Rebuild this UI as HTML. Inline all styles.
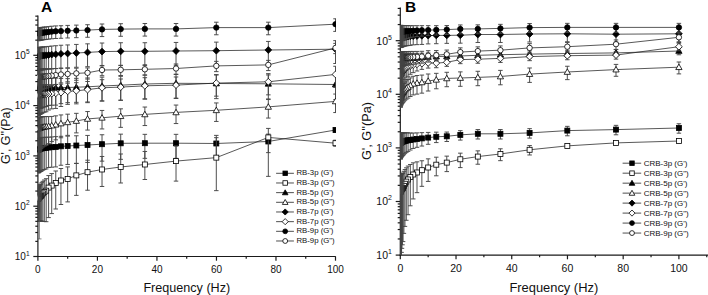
<!DOCTYPE html>
<html><head><meta charset="utf-8"><style>
html,body{margin:0;padding:0;background:#fff;}
body{width:708px;height:295px;overflow:hidden;}
svg{display:block;font-family:"Liberation Sans",sans-serif;}
</style></head><body>
<svg width="708" height="295" viewBox="0 0 708 295">
<rect width="708" height="295" fill="#fff"/>
<g stroke="#1a1a1a" stroke-width="1.2" fill="none">
<line x1="37.90" y1="15.6" x2="37.90" y2="257.10"/>
<line x1="37.30" y1="256.50" x2="335.80" y2="256.50"/>
<line x1="33.30" y1="256.50" x2="37.90" y2="256.50"/>
<line x1="35.30" y1="241.36" x2="37.90" y2="241.36"/>
<line x1="35.30" y1="232.50" x2="37.90" y2="232.50"/>
<line x1="35.30" y1="226.22" x2="37.90" y2="226.22"/>
<line x1="35.30" y1="221.34" x2="37.90" y2="221.34"/>
<line x1="35.30" y1="217.36" x2="37.90" y2="217.36"/>
<line x1="35.30" y1="213.99" x2="37.90" y2="213.99"/>
<line x1="35.30" y1="211.07" x2="37.90" y2="211.07"/>
<line x1="35.30" y1="208.50" x2="37.90" y2="208.50"/>
<line x1="33.30" y1="206.20" x2="37.90" y2="206.20"/>
<line x1="35.30" y1="191.06" x2="37.90" y2="191.06"/>
<line x1="35.30" y1="182.20" x2="37.90" y2="182.20"/>
<line x1="35.30" y1="175.92" x2="37.90" y2="175.92"/>
<line x1="35.30" y1="171.04" x2="37.90" y2="171.04"/>
<line x1="35.30" y1="167.06" x2="37.90" y2="167.06"/>
<line x1="35.30" y1="163.69" x2="37.90" y2="163.69"/>
<line x1="35.30" y1="160.77" x2="37.90" y2="160.77"/>
<line x1="35.30" y1="158.20" x2="37.90" y2="158.20"/>
<line x1="33.30" y1="155.90" x2="37.90" y2="155.90"/>
<line x1="35.30" y1="140.76" x2="37.90" y2="140.76"/>
<line x1="35.30" y1="131.90" x2="37.90" y2="131.90"/>
<line x1="35.30" y1="125.62" x2="37.90" y2="125.62"/>
<line x1="35.30" y1="120.74" x2="37.90" y2="120.74"/>
<line x1="35.30" y1="116.76" x2="37.90" y2="116.76"/>
<line x1="35.30" y1="113.39" x2="37.90" y2="113.39"/>
<line x1="35.30" y1="110.47" x2="37.90" y2="110.47"/>
<line x1="35.30" y1="107.90" x2="37.90" y2="107.90"/>
<line x1="33.30" y1="105.60" x2="37.90" y2="105.60"/>
<line x1="35.30" y1="90.46" x2="37.90" y2="90.46"/>
<line x1="35.30" y1="81.60" x2="37.90" y2="81.60"/>
<line x1="35.30" y1="75.32" x2="37.90" y2="75.32"/>
<line x1="35.30" y1="70.44" x2="37.90" y2="70.44"/>
<line x1="35.30" y1="66.46" x2="37.90" y2="66.46"/>
<line x1="35.30" y1="63.09" x2="37.90" y2="63.09"/>
<line x1="35.30" y1="60.17" x2="37.90" y2="60.17"/>
<line x1="35.30" y1="57.60" x2="37.90" y2="57.60"/>
<line x1="33.30" y1="55.30" x2="37.90" y2="55.30"/>
<line x1="35.30" y1="40.16" x2="37.90" y2="40.16"/>
<line x1="35.30" y1="31.30" x2="37.90" y2="31.30"/>
<line x1="35.30" y1="25.02" x2="37.90" y2="25.02"/>
<line x1="35.30" y1="20.14" x2="37.90" y2="20.14"/>
<line x1="35.30" y1="16.16" x2="37.90" y2="16.16"/>
<line x1="37.90" y1="256.50" x2="37.90" y2="260.70"/>
<line x1="67.66" y1="256.50" x2="67.66" y2="258.70"/>
<line x1="97.42" y1="256.50" x2="97.42" y2="260.70"/>
<line x1="127.18" y1="256.50" x2="127.18" y2="258.70"/>
<line x1="156.94" y1="256.50" x2="156.94" y2="260.70"/>
<line x1="186.70" y1="256.50" x2="186.70" y2="258.70"/>
<line x1="216.46" y1="256.50" x2="216.46" y2="260.70"/>
<line x1="246.22" y1="256.50" x2="246.22" y2="258.70"/>
<line x1="275.98" y1="256.50" x2="275.98" y2="260.70"/>
<line x1="305.74" y1="256.50" x2="305.74" y2="258.70"/>
<line x1="335.50" y1="256.50" x2="335.50" y2="260.70"/>
</g>
<text x="29.60" y="260.10" text-anchor="end" font-size="10" fill="#111">10<tspan font-size="6.60" dy="-4.60">1</tspan></text>
<text x="29.60" y="209.80" text-anchor="end" font-size="10" fill="#111">10<tspan font-size="6.60" dy="-4.60">2</tspan></text>
<text x="29.60" y="159.50" text-anchor="end" font-size="10" fill="#111">10<tspan font-size="6.60" dy="-4.60">3</tspan></text>
<text x="29.60" y="109.20" text-anchor="end" font-size="10" fill="#111">10<tspan font-size="6.60" dy="-4.60">4</tspan></text>
<text x="29.60" y="58.90" text-anchor="end" font-size="10" fill="#111">10<tspan font-size="6.60" dy="-4.60">5</tspan></text>
<text x="37.90" y="272.60" text-anchor="middle" font-size="10" fill="#111">0</text>
<text x="97.42" y="272.60" text-anchor="middle" font-size="10" fill="#111">20</text>
<text x="156.94" y="272.60" text-anchor="middle" font-size="10" fill="#111">40</text>
<text x="216.46" y="272.60" text-anchor="middle" font-size="10" fill="#111">60</text>
<text x="275.98" y="272.60" text-anchor="middle" font-size="10" fill="#111">80</text>
<text x="335.50" y="272.60" text-anchor="middle" font-size="10" fill="#111">100</text>
<text x="186.80" y="291.60" font-size="12.6" fill="#111" text-anchor="middle">Frequency (Hz)</text>
<text transform="translate(9.90,135.70) rotate(-90)" font-size="12.4" fill="#111" text-anchor="middle">G', G''(Pa)</text>
<text x="41.00" y="12.10" font-size="15.5" font-weight="bold" fill="#000">A</text>
<clipPath id="cA"><rect x="37.90" y="-4.4" width="298.10" height="260.90"/></clipPath>
<g clip-path="url(#cA)">
<path d="M335.50 130.00L268.32 141.48L216.31 143.49L176.03 143.20L144.85 143.20L120.71 143.30L102.02 144.19L87.54 145.00L76.34 145.50L67.66 146.00L60.94 146.30L55.74 146.90L51.71 147.20L48.60 147.50L46.18 147.80L44.31 147.97L42.86 148.15L41.74 148.32L40.88 148.50L40.20 148.67L39.68 148.83L39.28 149.00L38.97 149.17L38.73 149.33L38.54 149.50L38.40 149.67L38.28 149.83L38.20 150.00" fill="none" stroke="#222" stroke-width="0.75"/>
<path d="M335.50 127.92V132.30M333.25 127.92H337.75M333.25 132.30H337.75M268.32 134.14V152.63M266.07 134.14H270.57M266.07 152.63H270.57M216.31 135.38V156.55M214.06 135.38H218.56M214.06 156.55H218.56M176.03 134.34V158.34M173.78 134.34H178.28M173.78 158.34H178.28M144.85 134.34V158.34M142.60 134.34H147.10M142.60 158.34H147.10M120.71 134.15V159.33M118.46 134.15H122.96M118.46 159.33H122.96M102.02 134.76V161.15M99.77 134.76H104.27M99.77 161.15H104.27M87.54 135.43V162.45M85.29 135.43H89.79M85.29 162.45H89.79M76.34 135.78V163.43M74.09 135.78H78.59M74.09 163.43H78.59M67.66 136.15V164.44M65.41 136.15H69.91M65.41 164.44H69.91M60.94 136.31V165.25M58.69 136.31H63.19M58.69 165.25H63.19M55.74 136.63V166.91M53.49 136.63H57.99M53.49 166.91H57.99M51.71 136.93V167.22M49.46 136.93H53.96M49.46 167.22H53.96M48.60 137.23V167.52M46.35 137.23H50.85M46.35 167.52H50.85M46.18 137.26V168.93M43.93 137.26H48.43M43.93 168.93H48.43M44.31 137.34V169.55M42.06 137.34H46.56M42.06 169.55H46.56M42.86 137.41V170.17M40.61 137.41H45.11M40.61 170.17H45.11" fill="none" stroke="#454545" stroke-width="0.95"/>
<rect x="333.00" y="127.50" width="5.00" height="5.00" fill="#000" stroke="#000" stroke-width="0.8"/>
<rect x="265.82" y="138.98" width="5.00" height="5.00" fill="#000" stroke="#000" stroke-width="0.8"/>
<rect x="213.81" y="140.99" width="5.00" height="5.00" fill="#000" stroke="#000" stroke-width="0.8"/>
<rect x="173.53" y="140.70" width="5.00" height="5.00" fill="#000" stroke="#000" stroke-width="0.8"/>
<rect x="142.35" y="140.70" width="5.00" height="5.00" fill="#000" stroke="#000" stroke-width="0.8"/>
<rect x="118.21" y="140.80" width="5.00" height="5.00" fill="#000" stroke="#000" stroke-width="0.8"/>
<rect x="99.52" y="141.69" width="5.00" height="5.00" fill="#000" stroke="#000" stroke-width="0.8"/>
<rect x="85.04" y="142.50" width="5.00" height="5.00" fill="#000" stroke="#000" stroke-width="0.8"/>
<rect x="73.84" y="143.00" width="5.00" height="5.00" fill="#000" stroke="#000" stroke-width="0.8"/>
<rect x="65.16" y="143.50" width="5.00" height="5.00" fill="#000" stroke="#000" stroke-width="0.8"/>
<rect x="58.44" y="143.80" width="5.00" height="5.00" fill="#000" stroke="#000" stroke-width="0.8"/>
<rect x="53.24" y="144.40" width="5.00" height="5.00" fill="#000" stroke="#000" stroke-width="0.8"/>
<rect x="49.21" y="144.70" width="5.00" height="5.00" fill="#000" stroke="#000" stroke-width="0.8"/>
<rect x="46.10" y="145.00" width="5.00" height="5.00" fill="#000" stroke="#000" stroke-width="0.8"/>
<rect x="43.68" y="145.30" width="5.00" height="5.00" fill="#000" stroke="#000" stroke-width="0.8"/>
<rect x="41.81" y="145.47" width="5.00" height="5.00" fill="#000" stroke="#000" stroke-width="0.8"/>
<rect x="40.36" y="145.65" width="5.00" height="5.00" fill="#000" stroke="#000" stroke-width="0.8"/>
<rect x="39.24" y="145.82" width="5.00" height="5.00" fill="#000" stroke="#000" stroke-width="0.8"/>
<rect x="38.38" y="146.00" width="5.00" height="5.00" fill="#000" stroke="#000" stroke-width="0.8"/>
<rect x="37.70" y="146.17" width="5.00" height="5.00" fill="#000" stroke="#000" stroke-width="0.8"/>
<rect x="37.18" y="146.33" width="5.00" height="5.00" fill="#000" stroke="#000" stroke-width="0.8"/>
<rect x="36.78" y="146.50" width="5.00" height="5.00" fill="#000" stroke="#000" stroke-width="0.8"/>
<rect x="36.47" y="146.67" width="5.00" height="5.00" fill="#000" stroke="#000" stroke-width="0.8"/>
<rect x="36.23" y="146.83" width="5.00" height="5.00" fill="#000" stroke="#000" stroke-width="0.8"/>
<rect x="36.04" y="147.00" width="5.00" height="5.00" fill="#000" stroke="#000" stroke-width="0.8"/>
<rect x="35.90" y="147.17" width="5.00" height="5.00" fill="#000" stroke="#000" stroke-width="0.8"/>
<rect x="35.78" y="147.33" width="5.00" height="5.00" fill="#000" stroke="#000" stroke-width="0.8"/>
<rect x="35.70" y="147.50" width="5.00" height="5.00" fill="#000" stroke="#000" stroke-width="0.8"/>
<path d="M41.74 137.49V170.79M39.49 137.49H43.99M39.49 170.79H43.99M40.88 137.56V171.43M38.63 137.56H43.13M38.63 171.43H43.13M40.20 137.73V171.60M37.95 137.73H42.45M37.95 171.60H42.45M39.68 137.89V171.77M37.43 137.89H41.93M37.43 171.77H41.93M39.28 138.06V171.93M37.03 138.06H41.53M37.03 171.93H41.53M38.97 138.23V172.10M36.72 138.23H41.22M36.72 172.10H41.22M38.73 138.39V172.27M36.48 138.39H40.98M36.48 172.27H40.98M38.54 138.56V172.43M36.29 138.56H40.79M36.29 172.43H40.79M38.40 138.73V172.60M36.15 138.73H40.65M36.15 172.60H40.65M38.28 138.89V172.77M36.03 138.89H40.53M36.03 172.77H40.53M38.20 139.06V172.93M35.95 139.06H40.45M35.95 172.93H40.45" fill="none" stroke="#454545" stroke-width="0.95"/>
<path d="M335.50 143.20L268.32 137.41L216.31 157.64L176.03 161.10L144.85 164.49L120.71 166.99L102.02 169.48L87.54 172.21L76.34 175.39L67.66 178.90L60.94 180.50L55.74 182.99L51.71 185.60L48.60 187.59L46.18 190.69L44.31 192.02L42.86 193.35L41.74 194.67L40.88 196.00L40.20 196.33L39.68 196.67L39.28 197.00L38.97 197.33L38.73 197.67L38.54 198.00L38.40 198.33L38.28 198.67L38.20 199.00" fill="none" stroke="#222" stroke-width="0.75"/>
<path d="M335.50 140.20V146.20M333.25 140.20H337.75M333.25 146.20H337.75M268.32 128.42V176.36M266.07 128.42H270.57M266.07 176.36H270.57M216.31 137.67V190.65M214.06 137.67H218.56M214.06 190.65H218.56M176.03 146.09V181.11M173.78 146.09H178.28M173.78 181.11H178.28M144.85 151.48V179.51M142.60 151.48H147.10M142.60 179.51H147.10M120.71 153.99V182.99M118.46 153.99H122.96M118.46 182.99H122.96M102.02 156.48V186.47M99.77 156.48H104.27M99.77 186.47H104.27M87.54 160.21V190.22M85.29 160.21H89.79M85.29 190.22H89.79M76.34 163.39V195.38M74.09 163.39H78.59M74.09 195.38H78.59M67.66 166.90V201.90M65.41 166.90H69.91M65.41 201.90H69.91M60.94 168.50V204.50M58.69 168.50H63.19M58.69 204.50H63.19M55.74 170.99V208.99M53.49 170.99H57.99M53.49 208.99H57.99M51.71 173.60V213.59M49.46 173.60H53.96M49.46 213.59H53.96M48.60 175.59V217.58M46.35 175.59H50.85M46.35 217.58H50.85M46.18 178.69V221.69M43.93 178.69H48.43M43.93 221.69H48.43M44.31 180.02V221.53M42.06 180.02H46.56M42.06 221.53H46.56M42.86 181.35V221.35M40.61 181.35H45.11M40.61 221.35H45.11" fill="none" stroke="#454545" stroke-width="0.95"/>
<rect x="333.00" y="140.70" width="5.00" height="5.00" fill="#fff" stroke="#000" stroke-width="0.8"/>
<rect x="265.82" y="134.91" width="5.00" height="5.00" fill="#fff" stroke="#000" stroke-width="0.8"/>
<rect x="213.81" y="155.14" width="5.00" height="5.00" fill="#fff" stroke="#000" stroke-width="0.8"/>
<rect x="173.53" y="158.60" width="5.00" height="5.00" fill="#fff" stroke="#000" stroke-width="0.8"/>
<rect x="142.35" y="161.99" width="5.00" height="5.00" fill="#fff" stroke="#000" stroke-width="0.8"/>
<rect x="118.21" y="164.49" width="5.00" height="5.00" fill="#fff" stroke="#000" stroke-width="0.8"/>
<rect x="99.52" y="166.98" width="5.00" height="5.00" fill="#fff" stroke="#000" stroke-width="0.8"/>
<rect x="85.04" y="169.71" width="5.00" height="5.00" fill="#fff" stroke="#000" stroke-width="0.8"/>
<rect x="73.84" y="172.89" width="5.00" height="5.00" fill="#fff" stroke="#000" stroke-width="0.8"/>
<rect x="65.16" y="176.40" width="5.00" height="5.00" fill="#fff" stroke="#000" stroke-width="0.8"/>
<rect x="58.44" y="178.00" width="5.00" height="5.00" fill="#fff" stroke="#000" stroke-width="0.8"/>
<rect x="53.24" y="180.49" width="5.00" height="5.00" fill="#fff" stroke="#000" stroke-width="0.8"/>
<rect x="49.21" y="183.10" width="5.00" height="5.00" fill="#fff" stroke="#000" stroke-width="0.8"/>
<rect x="46.10" y="185.09" width="5.00" height="5.00" fill="#fff" stroke="#000" stroke-width="0.8"/>
<rect x="43.68" y="188.19" width="5.00" height="5.00" fill="#fff" stroke="#000" stroke-width="0.8"/>
<rect x="41.81" y="189.52" width="5.00" height="5.00" fill="#fff" stroke="#000" stroke-width="0.8"/>
<rect x="40.36" y="190.85" width="5.00" height="5.00" fill="#fff" stroke="#000" stroke-width="0.8"/>
<rect x="39.24" y="192.17" width="5.00" height="5.00" fill="#fff" stroke="#000" stroke-width="0.8"/>
<rect x="38.38" y="193.50" width="5.00" height="5.00" fill="#fff" stroke="#000" stroke-width="0.8"/>
<rect x="37.70" y="193.83" width="5.00" height="5.00" fill="#fff" stroke="#000" stroke-width="0.8"/>
<rect x="37.18" y="194.17" width="5.00" height="5.00" fill="#fff" stroke="#000" stroke-width="0.8"/>
<rect x="36.78" y="194.50" width="5.00" height="5.00" fill="#fff" stroke="#000" stroke-width="0.8"/>
<rect x="36.47" y="194.83" width="5.00" height="5.00" fill="#fff" stroke="#000" stroke-width="0.8"/>
<rect x="36.23" y="195.17" width="5.00" height="5.00" fill="#fff" stroke="#000" stroke-width="0.8"/>
<rect x="36.04" y="195.50" width="5.00" height="5.00" fill="#fff" stroke="#000" stroke-width="0.8"/>
<rect x="35.90" y="195.83" width="5.00" height="5.00" fill="#fff" stroke="#000" stroke-width="0.8"/>
<rect x="35.78" y="196.17" width="5.00" height="5.00" fill="#fff" stroke="#000" stroke-width="0.8"/>
<rect x="35.70" y="196.50" width="5.00" height="5.00" fill="#fff" stroke="#000" stroke-width="0.8"/>
<path d="M41.74 182.67V221.18M39.49 182.67H43.99M39.49 221.18H43.99M40.88 184.00V221.00M38.63 184.00H43.13M38.63 221.00H43.13M40.20 184.56V221.00M37.95 184.56H42.45M37.95 221.00H42.45M39.68 185.11V221.00M37.43 185.11H41.93M37.43 221.00H41.93M39.28 185.67V221.00M37.03 185.67H41.53M37.03 221.00H41.53M38.97 186.22V221.00M36.72 186.22H41.22M36.72 221.00H41.22M38.73 186.78V221.00M36.48 186.78H40.98M36.48 221.00H40.98M38.54 187.33V221.00M36.29 187.33H40.79M36.29 221.00H40.79M38.40 187.89V221.00M36.15 187.89H40.65M36.15 221.00H40.65M38.28 188.44V221.00M36.03 188.44H40.53M36.03 221.00H40.53M38.20 189.00V221.00M35.95 189.00H40.45M35.95 221.00H40.45" fill="none" stroke="#454545" stroke-width="0.95"/>
<path d="M335.50 84.50L268.32 83.80L216.31 83.50L176.03 83.30L144.85 84.00L120.71 85.20L102.02 85.99L87.54 86.80L76.34 87.20L67.66 87.50L60.94 87.60L55.74 87.70L51.71 87.80L48.60 88.00L46.18 88.10L44.31 88.15L42.86 88.20L41.74 88.25L40.88 88.30L40.20 88.32L39.68 88.34L39.28 88.37L38.97 88.39L38.73 88.41L38.54 88.43L38.40 88.46L38.28 88.48L38.20 88.50" fill="none" stroke="#222" stroke-width="0.75"/>
<path d="M335.50 75.64V99.64M333.25 75.64H337.75M333.25 99.64H337.75M268.32 74.94V98.94M266.07 74.94H270.57M266.07 98.94H270.57M216.31 74.64V98.64M214.06 74.64H218.56M214.06 98.64H218.56M176.03 74.44V98.44M173.78 74.44H178.28M173.78 98.44H178.28M144.85 75.14V99.14M142.60 75.14H147.10M142.60 99.14H147.10M120.71 76.34V100.34M118.46 76.34H122.96M118.46 100.34H122.96M102.02 77.14V101.14M99.77 77.14H104.27M99.77 101.14H104.27M87.54 77.94V101.94M85.29 77.94H89.79M85.29 101.94H89.79M76.34 78.34V102.34M74.09 78.34H78.59M74.09 102.34H78.59M67.66 78.64V102.64M65.41 78.64H69.91M65.41 102.64H69.91M60.94 78.45V103.63M58.69 78.45H63.19M58.69 103.63H63.19M55.74 78.13V105.14M53.49 78.13H57.99M53.49 105.14H57.99M51.71 78.23V105.24M49.46 78.23H53.96M49.46 105.24H53.96M48.60 78.43V105.44M46.35 78.43H50.85M46.35 105.44H50.85M46.18 78.25V106.53M43.93 78.25H48.43M43.93 106.53H48.43M44.31 78.19V106.97M42.06 78.19H46.56M42.06 106.97H46.56M42.86 78.14V107.41M40.61 78.14H45.11M40.61 107.41H45.11" fill="none" stroke="#454545" stroke-width="0.95"/>
<path d="M335.50 81.35L338.65 86.86L332.35 86.86Z" fill="#000" stroke="#000" stroke-width="0.8" stroke-linejoin="miter"/>
<path d="M268.32 80.65L271.47 86.16L265.17 86.16Z" fill="#000" stroke="#000" stroke-width="0.8" stroke-linejoin="miter"/>
<path d="M216.31 80.35L219.46 85.86L213.16 85.86Z" fill="#000" stroke="#000" stroke-width="0.8" stroke-linejoin="miter"/>
<path d="M176.03 80.15L179.18 85.66L172.88 85.66Z" fill="#000" stroke="#000" stroke-width="0.8" stroke-linejoin="miter"/>
<path d="M144.85 80.85L148.00 86.36L141.70 86.36Z" fill="#000" stroke="#000" stroke-width="0.8" stroke-linejoin="miter"/>
<path d="M120.71 82.05L123.86 87.56L117.56 87.56Z" fill="#000" stroke="#000" stroke-width="0.8" stroke-linejoin="miter"/>
<path d="M102.02 82.84L105.17 88.36L98.87 88.36Z" fill="#000" stroke="#000" stroke-width="0.8" stroke-linejoin="miter"/>
<path d="M87.54 83.65L90.69 89.16L84.39 89.16Z" fill="#000" stroke="#000" stroke-width="0.8" stroke-linejoin="miter"/>
<path d="M76.34 84.05L79.49 89.56L73.19 89.56Z" fill="#000" stroke="#000" stroke-width="0.8" stroke-linejoin="miter"/>
<path d="M67.66 84.35L70.81 89.86L64.51 89.86Z" fill="#000" stroke="#000" stroke-width="0.8" stroke-linejoin="miter"/>
<path d="M60.94 84.45L64.09 89.96L57.79 89.96Z" fill="#000" stroke="#000" stroke-width="0.8" stroke-linejoin="miter"/>
<path d="M55.74 84.55L58.89 90.06L52.59 90.06Z" fill="#000" stroke="#000" stroke-width="0.8" stroke-linejoin="miter"/>
<path d="M51.71 84.65L54.86 90.16L48.56 90.16Z" fill="#000" stroke="#000" stroke-width="0.8" stroke-linejoin="miter"/>
<path d="M48.60 84.85L51.75 90.36L45.45 90.36Z" fill="#000" stroke="#000" stroke-width="0.8" stroke-linejoin="miter"/>
<path d="M46.18 84.95L49.33 90.46L43.03 90.46Z" fill="#000" stroke="#000" stroke-width="0.8" stroke-linejoin="miter"/>
<path d="M44.31 85.00L47.46 90.51L41.16 90.51Z" fill="#000" stroke="#000" stroke-width="0.8" stroke-linejoin="miter"/>
<path d="M42.86 85.05L46.01 90.56L39.71 90.56Z" fill="#000" stroke="#000" stroke-width="0.8" stroke-linejoin="miter"/>
<path d="M41.74 85.10L44.89 90.61L38.59 90.61Z" fill="#000" stroke="#000" stroke-width="0.8" stroke-linejoin="miter"/>
<path d="M40.88 85.15L44.03 90.66L37.73 90.66Z" fill="#000" stroke="#000" stroke-width="0.8" stroke-linejoin="miter"/>
<path d="M40.20 85.17L43.35 90.68L37.05 90.68Z" fill="#000" stroke="#000" stroke-width="0.8" stroke-linejoin="miter"/>
<path d="M39.68 85.19L42.83 90.71L36.53 90.71Z" fill="#000" stroke="#000" stroke-width="0.8" stroke-linejoin="miter"/>
<path d="M39.28 85.22L42.43 90.73L36.13 90.73Z" fill="#000" stroke="#000" stroke-width="0.8" stroke-linejoin="miter"/>
<path d="M38.97 85.24L42.12 90.75L35.82 90.75Z" fill="#000" stroke="#000" stroke-width="0.8" stroke-linejoin="miter"/>
<path d="M38.73 85.26L41.88 90.77L35.58 90.77Z" fill="#000" stroke="#000" stroke-width="0.8" stroke-linejoin="miter"/>
<path d="M38.54 85.28L41.69 90.80L35.39 90.80Z" fill="#000" stroke="#000" stroke-width="0.8" stroke-linejoin="miter"/>
<path d="M38.40 85.31L41.55 90.82L35.25 90.82Z" fill="#000" stroke="#000" stroke-width="0.8" stroke-linejoin="miter"/>
<path d="M38.28 85.33L41.43 90.84L35.13 90.84Z" fill="#000" stroke="#000" stroke-width="0.8" stroke-linejoin="miter"/>
<path d="M38.20 85.35L41.35 90.86L35.05 90.86Z" fill="#000" stroke="#000" stroke-width="0.8" stroke-linejoin="miter"/>
<path d="M41.74 78.09V107.86M39.49 78.09H43.99M39.49 107.86H43.99M40.88 78.03V108.32M38.63 78.03H43.13M38.63 108.32H43.13M40.20 78.05V108.34M37.95 78.05H42.45M37.95 108.34H42.45M39.68 78.08V108.36M37.43 78.08H41.93M37.43 108.36H41.93M39.28 78.10V108.38M37.03 78.10H41.53M37.03 108.38H41.53M38.97 78.12V108.41M36.72 78.12H41.22M36.72 108.41H41.22M38.73 78.14V108.43M36.48 78.14H40.98M36.48 108.43H40.98M38.54 78.17V108.45M36.29 78.17H40.79M36.29 108.45H40.79M38.40 78.19V108.47M36.15 78.19H40.65M36.15 108.47H40.65M38.28 78.21V108.49M36.03 78.21H40.53M36.03 108.49H40.53M38.20 78.23V108.52M35.95 78.23H40.45M35.95 108.52H40.45" fill="none" stroke="#454545" stroke-width="0.95"/>
<path d="M335.50 101.40L268.32 106.89L216.31 110.29L176.03 112.40L144.85 114.39L120.71 116.19L102.02 117.79L87.54 118.91L76.34 120.99L67.66 122.30L60.94 123.50L55.74 124.70L51.71 125.60L48.60 126.20L46.18 126.50L44.31 126.75L42.86 127.00L41.74 127.25L40.88 127.50L40.20 127.61L39.68 127.72L39.28 127.83L38.97 127.94L38.73 128.06L38.54 128.17L38.40 128.28L38.28 128.39L38.20 128.50" fill="none" stroke="#222" stroke-width="0.75"/>
<path d="M335.50 94.05V112.56M333.25 94.05H337.75M333.25 112.56H337.75M268.32 99.54V118.05M266.07 99.54H270.57M266.07 118.05H270.57M216.31 102.94V121.45M214.06 102.94H218.56M214.06 121.45H218.56M176.03 105.05V123.56M173.78 105.05H178.28M173.78 123.56H178.28M144.85 107.04V125.55M142.60 107.04H147.10M142.60 125.55H147.10M120.71 108.84V127.35M118.46 108.84H122.96M118.46 127.35H122.96M102.02 110.44V128.95M99.77 110.44H104.27M99.77 128.95H104.27M87.54 111.56V130.07M85.29 111.56H89.79M85.29 130.07H89.79M76.34 113.33V132.89M74.09 113.33H78.59M74.09 132.89H78.59M67.66 114.18V135.36M65.41 114.18H69.91M65.41 135.36H69.91M60.94 114.93V137.78M58.69 114.93H63.19M58.69 137.78H63.19M55.74 115.84V139.84M53.49 115.84H57.99M53.49 139.84H57.99M51.71 116.45V141.63M49.46 116.45H53.96M49.46 141.63H53.96M48.60 116.63V143.63M46.35 116.63H50.85M46.35 143.63H50.85M46.18 116.51V145.44M43.93 116.51H48.43M43.93 145.44H48.43M44.31 116.62V146.22M42.06 116.62H46.56M42.06 146.22H46.56M42.86 116.73V147.01M40.61 116.73H45.11M40.61 147.01H45.11" fill="none" stroke="#454545" stroke-width="0.95"/>
<path d="M335.50 98.25L338.65 103.76L332.35 103.76Z" fill="#fff" stroke="#000" stroke-width="0.8" stroke-linejoin="miter"/>
<path d="M268.32 103.74L271.47 109.26L265.17 109.26Z" fill="#fff" stroke="#000" stroke-width="0.8" stroke-linejoin="miter"/>
<path d="M216.31 107.14L219.46 112.65L213.16 112.65Z" fill="#fff" stroke="#000" stroke-width="0.8" stroke-linejoin="miter"/>
<path d="M176.03 109.25L179.18 114.76L172.88 114.76Z" fill="#fff" stroke="#000" stroke-width="0.8" stroke-linejoin="miter"/>
<path d="M144.85 111.24L148.00 116.75L141.70 116.75Z" fill="#fff" stroke="#000" stroke-width="0.8" stroke-linejoin="miter"/>
<path d="M120.71 113.04L123.86 118.56L117.56 118.56Z" fill="#fff" stroke="#000" stroke-width="0.8" stroke-linejoin="miter"/>
<path d="M102.02 114.64L105.17 120.15L98.87 120.15Z" fill="#fff" stroke="#000" stroke-width="0.8" stroke-linejoin="miter"/>
<path d="M87.54 115.76L90.69 121.27L84.39 121.27Z" fill="#fff" stroke="#000" stroke-width="0.8" stroke-linejoin="miter"/>
<path d="M76.34 117.84L79.49 123.35L73.19 123.35Z" fill="#fff" stroke="#000" stroke-width="0.8" stroke-linejoin="miter"/>
<path d="M67.66 119.15L70.81 124.66L64.51 124.66Z" fill="#fff" stroke="#000" stroke-width="0.8" stroke-linejoin="miter"/>
<path d="M60.94 120.35L64.09 125.86L57.79 125.86Z" fill="#fff" stroke="#000" stroke-width="0.8" stroke-linejoin="miter"/>
<path d="M55.74 121.55L58.89 127.06L52.59 127.06Z" fill="#fff" stroke="#000" stroke-width="0.8" stroke-linejoin="miter"/>
<path d="M51.71 122.45L54.86 127.96L48.56 127.96Z" fill="#fff" stroke="#000" stroke-width="0.8" stroke-linejoin="miter"/>
<path d="M48.60 123.05L51.75 128.56L45.45 128.56Z" fill="#fff" stroke="#000" stroke-width="0.8" stroke-linejoin="miter"/>
<path d="M46.18 123.35L49.33 128.86L43.03 128.86Z" fill="#fff" stroke="#000" stroke-width="0.8" stroke-linejoin="miter"/>
<path d="M44.31 123.60L47.46 129.11L41.16 129.11Z" fill="#fff" stroke="#000" stroke-width="0.8" stroke-linejoin="miter"/>
<path d="M42.86 123.85L46.01 129.36L39.71 129.36Z" fill="#fff" stroke="#000" stroke-width="0.8" stroke-linejoin="miter"/>
<path d="M41.74 124.10L44.89 129.61L38.59 129.61Z" fill="#fff" stroke="#000" stroke-width="0.8" stroke-linejoin="miter"/>
<path d="M40.88 124.35L44.03 129.86L37.73 129.86Z" fill="#fff" stroke="#000" stroke-width="0.8" stroke-linejoin="miter"/>
<path d="M40.20 124.46L43.35 129.97L37.05 129.97Z" fill="#fff" stroke="#000" stroke-width="0.8" stroke-linejoin="miter"/>
<path d="M39.68 124.57L42.83 130.08L36.53 130.08Z" fill="#fff" stroke="#000" stroke-width="0.8" stroke-linejoin="miter"/>
<path d="M39.28 124.68L42.43 130.20L36.13 130.20Z" fill="#fff" stroke="#000" stroke-width="0.8" stroke-linejoin="miter"/>
<path d="M38.97 124.79L42.12 130.31L35.82 130.31Z" fill="#fff" stroke="#000" stroke-width="0.8" stroke-linejoin="miter"/>
<path d="M38.73 124.91L41.88 130.42L35.58 130.42Z" fill="#fff" stroke="#000" stroke-width="0.8" stroke-linejoin="miter"/>
<path d="M38.54 125.02L41.69 130.53L35.39 130.53Z" fill="#fff" stroke="#000" stroke-width="0.8" stroke-linejoin="miter"/>
<path d="M38.40 125.13L41.55 130.64L35.25 130.64Z" fill="#fff" stroke="#000" stroke-width="0.8" stroke-linejoin="miter"/>
<path d="M38.28 125.24L41.43 130.75L35.13 130.75Z" fill="#fff" stroke="#000" stroke-width="0.8" stroke-linejoin="miter"/>
<path d="M38.20 125.35L41.35 130.86L35.05 130.86Z" fill="#fff" stroke="#000" stroke-width="0.8" stroke-linejoin="miter"/>
<path d="M41.74 116.85V147.82M39.49 116.85H43.99M39.49 147.82H43.99M40.88 116.96V148.64M38.63 116.96H43.13M38.63 148.64H43.13M40.20 117.07V148.75M37.95 117.07H42.45M37.95 148.75H42.45M39.68 117.18V148.86M37.43 117.18H41.93M37.43 148.86H41.93M39.28 117.29V148.97M37.03 117.29H41.53M37.03 148.97H41.53M38.97 117.41V149.08M36.72 117.41H41.22M36.72 149.08H41.22M38.73 117.52V149.19M36.48 117.52H40.98M36.48 149.19H40.98M38.54 117.63V149.30M36.29 117.63H40.79M36.29 149.30H40.79M38.40 117.74V149.41M36.15 117.74H40.65M36.15 149.41H40.65M38.28 117.85V149.53M36.03 117.85H40.53M36.03 149.53H40.53M38.20 117.96V149.64M35.95 117.96H40.45M35.95 149.64H40.45" fill="none" stroke="#454545" stroke-width="0.95"/>
<path d="M335.50 49.20L268.32 50.00L216.31 50.70L176.03 51.00L144.85 51.30L120.71 51.30L102.02 51.60L87.54 52.40L76.34 53.00L67.66 53.50L60.94 53.80L55.74 54.30L51.71 54.60L48.60 55.00L46.18 55.30L44.31 55.42L42.86 55.55L41.74 55.67L40.88 55.80L40.20 55.88L39.68 55.96L39.28 56.03L38.97 56.11L38.73 56.19L38.54 56.27L38.40 56.34L38.28 56.42L38.20 56.50" fill="none" stroke="#222" stroke-width="0.75"/>
<path d="M335.50 40.64V63.49M333.25 40.64H337.75M333.25 63.49H337.75M268.32 41.43V64.28M266.07 41.43H270.57M266.07 64.28H270.57M216.31 42.13V64.98M214.06 42.13H218.56M214.06 64.98H218.56M176.03 42.44V65.28M173.78 42.44H178.28M173.78 65.28H178.28M144.85 42.73V65.58M142.60 42.73H147.10M142.60 65.58H147.10M120.71 42.74V65.59M118.46 42.74H122.96M118.46 65.59H122.96M102.02 43.03V65.88M99.77 43.03H104.27M99.77 65.88H104.27M87.54 43.84V66.69M85.29 43.84H89.79M85.29 66.69H89.79M76.34 44.43V67.28M74.09 44.43H78.59M74.09 67.28H78.59M67.66 44.94V67.79M65.41 44.94H69.91M65.41 67.79H69.91M60.94 45.24V68.08M58.69 45.24H63.19M58.69 68.08H63.19M55.74 45.73V68.58M53.49 45.73H57.99M53.49 68.58H57.99M51.71 46.04V68.88M49.46 46.04H53.96M49.46 68.88H53.96M48.60 46.43V69.28M46.35 46.43H50.85M46.35 69.28H50.85M46.18 46.73V69.58M43.93 46.73H48.43M43.93 69.58H48.43M44.31 46.86V69.71M42.06 46.86H46.56M42.06 69.71H46.56M42.86 46.99V69.83M40.61 46.99H45.11M40.61 69.83H45.11" fill="none" stroke="#454545" stroke-width="0.95"/>
<path d="M335.50 45.80L338.90 49.20L335.50 52.60L332.10 49.20Z" fill="#000" stroke="#000" stroke-width="0.8"/>
<path d="M268.32 46.60L271.72 50.00L268.32 53.40L264.92 50.00Z" fill="#000" stroke="#000" stroke-width="0.8"/>
<path d="M216.31 47.30L219.71 50.70L216.31 54.10L212.91 50.70Z" fill="#000" stroke="#000" stroke-width="0.8"/>
<path d="M176.03 47.60L179.43 51.00L176.03 54.40L172.63 51.00Z" fill="#000" stroke="#000" stroke-width="0.8"/>
<path d="M144.85 47.90L148.25 51.30L144.85 54.70L141.45 51.30Z" fill="#000" stroke="#000" stroke-width="0.8"/>
<path d="M120.71 47.90L124.11 51.30L120.71 54.70L117.31 51.30Z" fill="#000" stroke="#000" stroke-width="0.8"/>
<path d="M102.02 48.20L105.42 51.60L102.02 55.00L98.62 51.60Z" fill="#000" stroke="#000" stroke-width="0.8"/>
<path d="M87.54 49.00L90.94 52.40L87.54 55.80L84.14 52.40Z" fill="#000" stroke="#000" stroke-width="0.8"/>
<path d="M76.34 49.60L79.74 53.00L76.34 56.40L72.94 53.00Z" fill="#000" stroke="#000" stroke-width="0.8"/>
<path d="M67.66 50.10L71.06 53.50L67.66 56.90L64.26 53.50Z" fill="#000" stroke="#000" stroke-width="0.8"/>
<path d="M60.94 50.40L64.34 53.80L60.94 57.20L57.54 53.80Z" fill="#000" stroke="#000" stroke-width="0.8"/>
<path d="M55.74 50.90L59.14 54.30L55.74 57.70L52.34 54.30Z" fill="#000" stroke="#000" stroke-width="0.8"/>
<path d="M51.71 51.20L55.11 54.60L51.71 58.00L48.31 54.60Z" fill="#000" stroke="#000" stroke-width="0.8"/>
<path d="M48.60 51.60L52.00 55.00L48.60 58.40L45.20 55.00Z" fill="#000" stroke="#000" stroke-width="0.8"/>
<path d="M46.18 51.90L49.58 55.30L46.18 58.70L42.78 55.30Z" fill="#000" stroke="#000" stroke-width="0.8"/>
<path d="M44.31 52.02L47.71 55.42L44.31 58.82L40.91 55.42Z" fill="#000" stroke="#000" stroke-width="0.8"/>
<path d="M42.86 52.15L46.26 55.55L42.86 58.95L39.46 55.55Z" fill="#000" stroke="#000" stroke-width="0.8"/>
<path d="M41.74 52.27L45.14 55.67L41.74 59.07L38.34 55.67Z" fill="#000" stroke="#000" stroke-width="0.8"/>
<path d="M40.88 52.40L44.28 55.80L40.88 59.20L37.48 55.80Z" fill="#000" stroke="#000" stroke-width="0.8"/>
<path d="M40.20 52.48L43.60 55.88L40.20 59.28L36.80 55.88Z" fill="#000" stroke="#000" stroke-width="0.8"/>
<path d="M39.68 52.56L43.08 55.96L39.68 59.36L36.28 55.96Z" fill="#000" stroke="#000" stroke-width="0.8"/>
<path d="M39.28 52.63L42.68 56.03L39.28 59.43L35.88 56.03Z" fill="#000" stroke="#000" stroke-width="0.8"/>
<path d="M38.97 52.71L42.37 56.11L38.97 59.51L35.57 56.11Z" fill="#000" stroke="#000" stroke-width="0.8"/>
<path d="M38.73 52.79L42.13 56.19L38.73 59.59L35.33 56.19Z" fill="#000" stroke="#000" stroke-width="0.8"/>
<path d="M38.54 52.87L41.94 56.27L38.54 59.67L35.14 56.27Z" fill="#000" stroke="#000" stroke-width="0.8"/>
<path d="M38.40 52.94L41.80 56.34L38.40 59.74L35.00 56.34Z" fill="#000" stroke="#000" stroke-width="0.8"/>
<path d="M38.28 53.02L41.68 56.42L38.28 59.82L34.88 56.42Z" fill="#000" stroke="#000" stroke-width="0.8"/>
<path d="M38.20 53.10L41.60 56.50L38.20 59.90L34.80 56.50Z" fill="#000" stroke="#000" stroke-width="0.8"/>
<path d="M41.74 47.11V69.96M39.49 47.11H43.99M39.49 69.96H43.99M40.88 47.24V70.09M38.63 47.24H43.13M38.63 70.09H43.13M40.20 47.31V70.16M37.95 47.31H42.45M37.95 70.16H42.45M39.68 47.39V70.24M37.43 47.39H41.93M37.43 70.24H41.93M39.28 47.47V70.32M37.03 47.47H41.53M37.03 70.32H41.53M38.97 47.55V70.40M36.72 47.55H41.22M36.72 70.40H41.22M38.73 47.62V70.47M36.48 47.62H40.98M36.48 70.47H40.98M38.54 47.70V70.55M36.29 47.70H40.79M36.29 70.55H40.79M38.40 47.78V70.63M36.15 47.78H40.65M36.15 70.63H40.65M38.28 47.86V70.71M36.03 47.86H40.53M36.03 70.71H40.53M38.20 47.94V70.79M35.95 47.94H40.45M35.95 70.79H40.45" fill="none" stroke="#454545" stroke-width="0.95"/>
<path d="M335.50 74.40L268.32 81.79L216.31 83.10L176.03 85.10L144.85 85.80L120.71 87.10L102.02 87.79L87.54 89.61L76.34 90.79L67.66 91.30L60.94 92.60L55.74 93.30L51.71 93.70L48.60 94.00L46.18 94.30L44.31 94.47L42.86 94.65L41.74 94.82L40.88 95.00L40.20 95.06L39.68 95.11L39.28 95.17L38.97 95.22L38.73 95.28L38.54 95.33L38.40 95.39L38.28 95.44L38.20 95.50" fill="none" stroke="#222" stroke-width="0.75"/>
<path d="M335.50 66.28V87.46M333.25 66.28H337.75M333.25 87.46H337.75M268.32 73.67V94.85M266.07 73.67H270.57M266.07 94.85H270.57M216.31 74.98V96.16M214.06 74.98H218.56M214.06 96.16H218.56M176.03 76.98V98.16M173.78 76.98H178.28M173.78 98.16H178.28M144.85 77.68V98.86M142.60 77.68H147.10M142.60 98.86H147.10M120.71 78.98V100.16M118.46 78.98H122.96M118.46 100.16H122.96M102.02 79.68V100.85M99.77 79.68H104.27M99.77 100.85H104.27M87.54 81.49V102.67M85.29 81.49H89.79M85.29 102.67H89.79M76.34 82.68V103.85M74.09 82.68H78.59M74.09 103.85H78.59M67.66 83.18V104.36M65.41 83.18H69.91M65.41 104.36H69.91M60.94 84.18V106.47M58.69 84.18H63.19M58.69 106.47H63.19M55.74 84.44V108.44M53.49 84.44H57.99M53.49 108.44H57.99M51.71 84.84V108.84M49.46 84.84H53.96M49.46 108.84H53.96M48.60 84.85V110.03M46.35 84.85H50.85M46.35 110.03H50.85M46.18 84.73V111.74M43.93 84.73H48.43M43.93 111.74H48.43M44.31 84.80V112.28M42.06 84.80H46.56M42.06 112.28H46.56M42.86 84.87V112.83M40.61 84.87H45.11M40.61 112.83H45.11" fill="none" stroke="#454545" stroke-width="0.95"/>
<path d="M335.50 71.00L338.90 74.40L335.50 77.80L332.10 74.40Z" fill="#fff" stroke="#000" stroke-width="0.8"/>
<path d="M268.32 78.39L271.72 81.79L268.32 85.19L264.92 81.79Z" fill="#fff" stroke="#000" stroke-width="0.8"/>
<path d="M216.31 79.70L219.71 83.10L216.31 86.50L212.91 83.10Z" fill="#fff" stroke="#000" stroke-width="0.8"/>
<path d="M176.03 81.70L179.43 85.10L176.03 88.50L172.63 85.10Z" fill="#fff" stroke="#000" stroke-width="0.8"/>
<path d="M144.85 82.40L148.25 85.80L144.85 89.20L141.45 85.80Z" fill="#fff" stroke="#000" stroke-width="0.8"/>
<path d="M120.71 83.70L124.11 87.10L120.71 90.50L117.31 87.10Z" fill="#fff" stroke="#000" stroke-width="0.8"/>
<path d="M102.02 84.39L105.42 87.79L102.02 91.19L98.62 87.79Z" fill="#fff" stroke="#000" stroke-width="0.8"/>
<path d="M87.54 86.21L90.94 89.61L87.54 93.01L84.14 89.61Z" fill="#fff" stroke="#000" stroke-width="0.8"/>
<path d="M76.34 87.39L79.74 90.79L76.34 94.19L72.94 90.79Z" fill="#fff" stroke="#000" stroke-width="0.8"/>
<path d="M67.66 87.90L71.06 91.30L67.66 94.70L64.26 91.30Z" fill="#fff" stroke="#000" stroke-width="0.8"/>
<path d="M60.94 89.20L64.34 92.60L60.94 96.00L57.54 92.60Z" fill="#fff" stroke="#000" stroke-width="0.8"/>
<path d="M55.74 89.90L59.14 93.30L55.74 96.70L52.34 93.30Z" fill="#fff" stroke="#000" stroke-width="0.8"/>
<path d="M51.71 90.30L55.11 93.70L51.71 97.10L48.31 93.70Z" fill="#fff" stroke="#000" stroke-width="0.8"/>
<path d="M48.60 90.60L52.00 94.00L48.60 97.40L45.20 94.00Z" fill="#fff" stroke="#000" stroke-width="0.8"/>
<path d="M46.18 90.90L49.58 94.30L46.18 97.70L42.78 94.30Z" fill="#fff" stroke="#000" stroke-width="0.8"/>
<path d="M44.31 91.07L47.71 94.47L44.31 97.87L40.91 94.47Z" fill="#fff" stroke="#000" stroke-width="0.8"/>
<path d="M42.86 91.25L46.26 94.65L42.86 98.05L39.46 94.65Z" fill="#fff" stroke="#000" stroke-width="0.8"/>
<path d="M41.74 91.42L45.14 94.82L41.74 98.22L38.34 94.82Z" fill="#fff" stroke="#000" stroke-width="0.8"/>
<path d="M40.88 91.60L44.28 95.00L40.88 98.40L37.48 95.00Z" fill="#fff" stroke="#000" stroke-width="0.8"/>
<path d="M40.20 91.66L43.60 95.06L40.20 98.46L36.80 95.06Z" fill="#fff" stroke="#000" stroke-width="0.8"/>
<path d="M39.68 91.71L43.08 95.11L39.68 98.51L36.28 95.11Z" fill="#fff" stroke="#000" stroke-width="0.8"/>
<path d="M39.28 91.77L42.68 95.17L39.28 98.57L35.88 95.17Z" fill="#fff" stroke="#000" stroke-width="0.8"/>
<path d="M38.97 91.82L42.37 95.22L38.97 98.62L35.57 95.22Z" fill="#fff" stroke="#000" stroke-width="0.8"/>
<path d="M38.73 91.88L42.13 95.28L38.73 98.68L35.33 95.28Z" fill="#fff" stroke="#000" stroke-width="0.8"/>
<path d="M38.54 91.93L41.94 95.33L38.54 98.73L35.14 95.33Z" fill="#fff" stroke="#000" stroke-width="0.8"/>
<path d="M38.40 91.99L41.80 95.39L38.40 98.79L35.00 95.39Z" fill="#fff" stroke="#000" stroke-width="0.8"/>
<path d="M38.28 92.04L41.68 95.44L38.28 98.84L34.88 95.44Z" fill="#fff" stroke="#000" stroke-width="0.8"/>
<path d="M38.20 92.10L41.60 95.50L38.20 98.90L34.80 95.50Z" fill="#fff" stroke="#000" stroke-width="0.8"/>
<path d="M41.74 84.94V113.39M39.49 84.94H43.99M39.49 113.39H43.99M40.88 85.01V113.95M38.63 85.01H43.13M38.63 113.95H43.13M40.20 85.03V114.12M37.95 85.03H42.45M37.95 114.12H42.45M39.68 85.06V114.29M37.43 85.06H41.93M37.43 114.29H41.93M39.28 85.08V114.47M37.03 85.08H41.53M37.03 114.47H41.53M38.97 85.11V114.64M36.72 85.11H41.22M36.72 114.64H41.22M38.73 85.13V114.81M36.48 85.13H40.98M36.48 114.81H40.98M38.54 85.16V114.99M36.29 85.16H40.79M36.29 114.99H40.79M38.40 85.18V115.16M36.15 85.18H40.65M36.15 115.16H40.65M38.28 85.21V115.34M36.03 85.21H40.53M36.03 115.34H40.53M38.20 85.23V115.52M35.95 85.23H40.45M35.95 115.52H40.45" fill="none" stroke="#454545" stroke-width="0.95"/>
<path d="M335.50 24.20L268.32 27.60L216.31 27.60L176.03 28.90L144.85 28.90L120.71 29.10L102.02 29.40L87.54 30.10L76.34 30.50L67.66 30.80L60.94 31.10L55.74 31.30L51.71 31.60L48.60 32.00L46.18 32.30L44.31 32.47L42.86 32.65L41.74 32.82L40.88 33.00L40.20 33.06L39.68 33.11L39.28 33.17L38.97 33.22L38.73 33.28L38.54 33.33L38.40 33.39L38.28 33.44L38.20 33.50" fill="none" stroke="#222" stroke-width="0.75"/>
<path d="M335.50 18.81V31.38M333.25 18.81H337.75M333.25 31.38H337.75M268.32 22.20V34.77M266.07 22.20H270.57M266.07 34.77H270.57M216.31 22.21V34.78M214.06 22.21H218.56M214.06 34.78H218.56M176.03 23.51V36.07M173.78 23.51H178.28M173.78 36.07H178.28M144.85 23.51V36.08M142.60 23.51H147.10M142.60 36.08H147.10M120.71 23.71V36.28M118.46 23.71H122.96M118.46 36.28H122.96M102.02 24.00V36.57M99.77 24.00H104.27M99.77 36.57H104.27M87.54 24.71V37.28M85.29 24.71H89.79M85.29 37.28H89.79M76.34 25.11V37.67M74.09 25.11H78.59M74.09 37.67H78.59M67.66 25.41V37.98M65.41 25.41H69.91M65.41 37.98H69.91M60.94 25.71V38.28M58.69 25.71H63.19M58.69 38.28H63.19M55.74 25.91V38.48M53.49 25.91H57.99M53.49 38.48H57.99M51.71 26.21V38.78M49.46 26.21H53.96M49.46 38.78H53.96M48.60 26.61V39.17M46.35 26.61H50.85M46.35 39.17H50.85M46.18 26.91V39.48M43.93 26.91H48.43M43.93 39.48H48.43M44.31 27.08V39.65M42.06 27.08H46.56M42.06 39.65H46.56M42.86 27.26V39.83M40.61 27.26H45.11M40.61 39.83H45.11" fill="none" stroke="#454545" stroke-width="0.95"/>
<circle cx="335.50" cy="24.20" r="2.70" fill="#000" stroke="#000" stroke-width="0.8"/>
<circle cx="268.32" cy="27.60" r="2.70" fill="#000" stroke="#000" stroke-width="0.8"/>
<circle cx="216.31" cy="27.60" r="2.70" fill="#000" stroke="#000" stroke-width="0.8"/>
<circle cx="176.03" cy="28.90" r="2.70" fill="#000" stroke="#000" stroke-width="0.8"/>
<circle cx="144.85" cy="28.90" r="2.70" fill="#000" stroke="#000" stroke-width="0.8"/>
<circle cx="120.71" cy="29.10" r="2.70" fill="#000" stroke="#000" stroke-width="0.8"/>
<circle cx="102.02" cy="29.40" r="2.70" fill="#000" stroke="#000" stroke-width="0.8"/>
<circle cx="87.54" cy="30.10" r="2.70" fill="#000" stroke="#000" stroke-width="0.8"/>
<circle cx="76.34" cy="30.50" r="2.70" fill="#000" stroke="#000" stroke-width="0.8"/>
<circle cx="67.66" cy="30.80" r="2.70" fill="#000" stroke="#000" stroke-width="0.8"/>
<circle cx="60.94" cy="31.10" r="2.70" fill="#000" stroke="#000" stroke-width="0.8"/>
<circle cx="55.74" cy="31.30" r="2.70" fill="#000" stroke="#000" stroke-width="0.8"/>
<circle cx="51.71" cy="31.60" r="2.70" fill="#000" stroke="#000" stroke-width="0.8"/>
<circle cx="48.60" cy="32.00" r="2.70" fill="#000" stroke="#000" stroke-width="0.8"/>
<circle cx="46.18" cy="32.30" r="2.70" fill="#000" stroke="#000" stroke-width="0.8"/>
<circle cx="44.31" cy="32.47" r="2.70" fill="#000" stroke="#000" stroke-width="0.8"/>
<circle cx="42.86" cy="32.65" r="2.70" fill="#000" stroke="#000" stroke-width="0.8"/>
<circle cx="41.74" cy="32.82" r="2.70" fill="#000" stroke="#000" stroke-width="0.8"/>
<circle cx="40.88" cy="33.00" r="2.70" fill="#000" stroke="#000" stroke-width="0.8"/>
<circle cx="40.20" cy="33.06" r="2.70" fill="#000" stroke="#000" stroke-width="0.8"/>
<circle cx="39.68" cy="33.11" r="2.70" fill="#000" stroke="#000" stroke-width="0.8"/>
<circle cx="39.28" cy="33.17" r="2.70" fill="#000" stroke="#000" stroke-width="0.8"/>
<circle cx="38.97" cy="33.22" r="2.70" fill="#000" stroke="#000" stroke-width="0.8"/>
<circle cx="38.73" cy="33.28" r="2.70" fill="#000" stroke="#000" stroke-width="0.8"/>
<circle cx="38.54" cy="33.33" r="2.70" fill="#000" stroke="#000" stroke-width="0.8"/>
<circle cx="38.40" cy="33.39" r="2.70" fill="#000" stroke="#000" stroke-width="0.8"/>
<circle cx="38.28" cy="33.44" r="2.70" fill="#000" stroke="#000" stroke-width="0.8"/>
<circle cx="38.20" cy="33.50" r="2.70" fill="#000" stroke="#000" stroke-width="0.8"/>
<path d="M41.74 27.43V40.00M39.49 27.43H43.99M39.49 40.00H43.99M40.88 27.61V40.18M38.63 27.61H43.13M38.63 40.18H43.13M40.20 27.66V40.23M37.95 27.66H42.45M37.95 40.23H42.45M39.68 27.72V40.29M37.43 27.72H41.93M37.43 40.29H41.93M39.28 27.77V40.34M37.03 27.77H41.53M37.03 40.34H41.53M38.97 27.83V40.40M36.72 27.83H41.22M36.72 40.40H41.22M38.73 27.89V40.45M36.48 27.89H40.98M36.48 40.45H40.98M38.54 27.94V40.51M36.29 27.94H40.79M36.29 40.51H40.79M38.40 28.00V40.57M36.15 28.00H40.65M36.15 40.57H40.65M38.28 28.05V40.62M36.03 28.05H40.53M36.03 40.62H40.53M38.20 28.11V40.68M35.95 28.11H40.45M35.95 40.68H40.45" fill="none" stroke="#454545" stroke-width="0.95"/>
<path d="M335.50 47.90L268.32 64.88L216.31 65.90L176.03 68.50L144.85 69.30L120.71 69.80L102.02 70.00L87.54 72.80L76.34 73.40L67.66 74.00L60.94 74.50L55.74 75.10L51.71 75.60L48.60 76.00L46.18 76.30L44.31 76.42L42.86 76.55L41.74 76.67L40.88 76.80L40.20 76.82L39.68 76.84L39.28 76.87L38.97 76.89L38.73 76.91L38.54 76.93L38.40 76.96L38.28 76.98L38.20 77.00" fill="none" stroke="#222" stroke-width="0.75"/>
<path d="M335.50 43.38V53.61M333.25 43.38H337.75M333.25 53.61H337.75M268.32 60.36V70.59M266.07 60.36H270.57M266.07 70.59H270.57M216.31 61.37V71.61M214.06 61.37H218.56M214.06 71.61H218.56M176.03 63.97V74.21M173.78 63.97H178.28M173.78 74.21H178.28M144.85 64.77V75.01M142.60 64.77H147.10M142.60 75.01H147.10M120.71 65.28V75.51M118.46 65.28H122.96M118.46 75.51H122.96M102.02 65.48V75.71M99.77 65.48H104.27M99.77 75.71H104.27M87.54 67.93V79.09M85.29 67.93H89.79M85.29 79.09H89.79M76.34 68.18V80.27M74.09 68.18H78.59M74.09 80.27H78.59M67.66 68.27V81.79M65.41 68.27H69.91M65.41 81.79H69.91M60.94 68.43V82.92M58.69 68.43H63.19M58.69 82.92H63.19M55.74 68.54V84.51M53.49 68.54H57.99M53.49 84.51H57.99M51.71 68.72V85.69M49.46 68.72H53.96M49.46 85.69H53.96M48.60 68.65V87.15M46.35 68.65H50.85M46.35 87.15H50.85M46.18 68.64V88.20M43.93 68.64H48.43M43.93 88.20H48.43M44.31 68.65V88.61M42.06 68.65H46.56M42.06 88.61H46.56M42.86 68.66V89.02M40.61 68.66H45.11M40.61 89.02H45.11" fill="none" stroke="#454545" stroke-width="0.95"/>
<circle cx="335.50" cy="47.90" r="2.70" fill="#fff" stroke="#000" stroke-width="0.8"/>
<circle cx="268.32" cy="64.88" r="2.70" fill="#fff" stroke="#000" stroke-width="0.8"/>
<circle cx="216.31" cy="65.90" r="2.70" fill="#fff" stroke="#000" stroke-width="0.8"/>
<circle cx="176.03" cy="68.50" r="2.70" fill="#fff" stroke="#000" stroke-width="0.8"/>
<circle cx="144.85" cy="69.30" r="2.70" fill="#fff" stroke="#000" stroke-width="0.8"/>
<circle cx="120.71" cy="69.80" r="2.70" fill="#fff" stroke="#000" stroke-width="0.8"/>
<circle cx="102.02" cy="70.00" r="2.70" fill="#fff" stroke="#000" stroke-width="0.8"/>
<circle cx="87.54" cy="72.80" r="2.70" fill="#fff" stroke="#000" stroke-width="0.8"/>
<circle cx="76.34" cy="73.40" r="2.70" fill="#fff" stroke="#000" stroke-width="0.8"/>
<circle cx="67.66" cy="74.00" r="2.70" fill="#fff" stroke="#000" stroke-width="0.8"/>
<circle cx="60.94" cy="74.50" r="2.70" fill="#fff" stroke="#000" stroke-width="0.8"/>
<circle cx="55.74" cy="75.10" r="2.70" fill="#fff" stroke="#000" stroke-width="0.8"/>
<circle cx="51.71" cy="75.60" r="2.70" fill="#fff" stroke="#000" stroke-width="0.8"/>
<circle cx="48.60" cy="76.00" r="2.70" fill="#fff" stroke="#000" stroke-width="0.8"/>
<circle cx="46.18" cy="76.30" r="2.70" fill="#fff" stroke="#000" stroke-width="0.8"/>
<circle cx="44.31" cy="76.42" r="2.70" fill="#fff" stroke="#000" stroke-width="0.8"/>
<circle cx="42.86" cy="76.55" r="2.70" fill="#fff" stroke="#000" stroke-width="0.8"/>
<circle cx="41.74" cy="76.67" r="2.70" fill="#fff" stroke="#000" stroke-width="0.8"/>
<circle cx="40.88" cy="76.80" r="2.70" fill="#fff" stroke="#000" stroke-width="0.8"/>
<circle cx="40.20" cy="76.82" r="2.70" fill="#fff" stroke="#000" stroke-width="0.8"/>
<circle cx="39.68" cy="76.84" r="2.70" fill="#fff" stroke="#000" stroke-width="0.8"/>
<circle cx="39.28" cy="76.87" r="2.70" fill="#fff" stroke="#000" stroke-width="0.8"/>
<circle cx="38.97" cy="76.89" r="2.70" fill="#fff" stroke="#000" stroke-width="0.8"/>
<circle cx="38.73" cy="76.91" r="2.70" fill="#fff" stroke="#000" stroke-width="0.8"/>
<circle cx="38.54" cy="76.93" r="2.70" fill="#fff" stroke="#000" stroke-width="0.8"/>
<circle cx="38.40" cy="76.96" r="2.70" fill="#fff" stroke="#000" stroke-width="0.8"/>
<circle cx="38.28" cy="76.98" r="2.70" fill="#fff" stroke="#000" stroke-width="0.8"/>
<circle cx="38.20" cy="77.00" r="2.70" fill="#fff" stroke="#000" stroke-width="0.8"/>
<path d="M41.74 68.67V89.44M39.49 68.67H43.99M39.49 89.44H43.99M40.88 68.68V89.86M38.63 68.68H43.13M38.63 89.86H43.13M40.20 68.71V89.88M37.95 68.71H42.45M37.95 89.88H42.45M39.68 68.73V89.90M37.43 68.73H41.93M37.43 89.90H41.93M39.28 68.75V89.93M37.03 68.75H41.53M37.03 89.93H41.53M38.97 68.77V89.95M36.72 68.77H41.22M36.72 89.95H41.22M38.73 68.79V89.97M36.48 68.79H40.98M36.48 89.97H40.98M38.54 68.82V89.99M36.29 68.82H40.79M36.29 89.99H40.79M38.40 68.84V90.02M36.15 68.84H40.65M36.15 90.02H40.65M38.28 68.86V90.04M36.03 68.86H40.53M36.03 90.04H40.53M38.20 68.88V90.06M35.95 68.88H40.45M35.95 90.06H40.45" fill="none" stroke="#454545" stroke-width="0.95"/>
<path d="M39.4 212V238.9M37.3 238.9H41.5" stroke="#555" stroke-width="0.7" fill="none"/>
</g>
<line x1="276.10" y1="173.30" x2="293.90" y2="173.30" stroke="#222" stroke-width="0.8"/>
<rect x="282.95" y="171.05" width="4.50" height="4.50" fill="#000" stroke="#000" stroke-width="0.8"/>
<text x="296.40" y="175.40" font-size="7.8" fill="#111">RB-3p (G')</text>
<line x1="276.10" y1="182.97" x2="293.90" y2="182.97" stroke="#222" stroke-width="0.8"/>
<rect x="282.95" y="180.72" width="4.50" height="4.50" fill="#fff" stroke="#000" stroke-width="0.8"/>
<text x="296.40" y="185.07" font-size="7.8" fill="#111">RB-3p (G")</text>
<line x1="276.10" y1="192.64" x2="293.90" y2="192.64" stroke="#222" stroke-width="0.8"/>
<path d="M285.20 189.81L288.03 194.77L282.37 194.77Z" fill="#000" stroke="#000" stroke-width="0.8" stroke-linejoin="miter"/>
<text x="296.40" y="194.74" font-size="7.8" fill="#111">RB-5p (G')</text>
<line x1="276.10" y1="202.31" x2="293.90" y2="202.31" stroke="#222" stroke-width="0.8"/>
<path d="M285.20 199.47L288.03 204.44L282.37 204.44Z" fill="#fff" stroke="#000" stroke-width="0.8" stroke-linejoin="miter"/>
<text x="296.40" y="204.41" font-size="7.8" fill="#111">RB-5p (G")</text>
<line x1="276.10" y1="211.98" x2="293.90" y2="211.98" stroke="#222" stroke-width="0.8"/>
<path d="M285.20 208.92L288.26 211.98L285.20 215.04L282.14 211.98Z" fill="#000" stroke="#000" stroke-width="0.8"/>
<text x="296.40" y="214.08" font-size="7.8" fill="#111">RB-7p (G')</text>
<line x1="276.10" y1="221.65" x2="293.90" y2="221.65" stroke="#222" stroke-width="0.8"/>
<path d="M285.20 218.59L288.26 221.65L285.20 224.71L282.14 221.65Z" fill="#fff" stroke="#000" stroke-width="0.8"/>
<text x="296.40" y="223.75" font-size="7.8" fill="#111">RB-7p (G")</text>
<line x1="276.10" y1="231.32" x2="293.90" y2="231.32" stroke="#222" stroke-width="0.8"/>
<circle cx="285.20" cy="231.32" r="2.43" fill="#000" stroke="#000" stroke-width="0.8"/>
<text x="296.40" y="233.42" font-size="7.8" fill="#111">RB-9p (G')</text>
<line x1="276.10" y1="240.99" x2="293.90" y2="240.99" stroke="#222" stroke-width="0.8"/>
<circle cx="285.20" cy="240.99" r="2.43" fill="#fff" stroke="#000" stroke-width="0.8"/>
<text x="296.40" y="243.09" font-size="7.8" fill="#111">RB-9p (G")</text>
<g stroke="#1a1a1a" stroke-width="1.2" fill="none">
<line x1="400.30" y1="7.5" x2="400.30" y2="255.70"/>
<line x1="399.70" y1="255.10" x2="708.00" y2="255.10"/>
<line x1="395.70" y1="255.10" x2="400.30" y2="255.10"/>
<line x1="397.70" y1="238.96" x2="400.30" y2="238.96"/>
<line x1="397.70" y1="229.53" x2="400.30" y2="229.53"/>
<line x1="397.70" y1="222.83" x2="400.30" y2="222.83"/>
<line x1="397.70" y1="217.64" x2="400.30" y2="217.64"/>
<line x1="397.70" y1="213.39" x2="400.30" y2="213.39"/>
<line x1="397.70" y1="209.80" x2="400.30" y2="209.80"/>
<line x1="397.70" y1="206.69" x2="400.30" y2="206.69"/>
<line x1="397.70" y1="203.95" x2="400.30" y2="203.95"/>
<line x1="395.70" y1="201.50" x2="400.30" y2="201.50"/>
<line x1="397.70" y1="185.36" x2="400.30" y2="185.36"/>
<line x1="397.70" y1="175.93" x2="400.30" y2="175.93"/>
<line x1="397.70" y1="169.23" x2="400.30" y2="169.23"/>
<line x1="397.70" y1="164.04" x2="400.30" y2="164.04"/>
<line x1="397.70" y1="159.79" x2="400.30" y2="159.79"/>
<line x1="397.70" y1="156.20" x2="400.30" y2="156.20"/>
<line x1="397.70" y1="153.09" x2="400.30" y2="153.09"/>
<line x1="397.70" y1="150.35" x2="400.30" y2="150.35"/>
<line x1="395.70" y1="147.90" x2="400.30" y2="147.90"/>
<line x1="397.70" y1="131.76" x2="400.30" y2="131.76"/>
<line x1="397.70" y1="122.33" x2="400.30" y2="122.33"/>
<line x1="397.70" y1="115.63" x2="400.30" y2="115.63"/>
<line x1="397.70" y1="110.44" x2="400.30" y2="110.44"/>
<line x1="397.70" y1="106.19" x2="400.30" y2="106.19"/>
<line x1="397.70" y1="102.60" x2="400.30" y2="102.60"/>
<line x1="397.70" y1="99.49" x2="400.30" y2="99.49"/>
<line x1="397.70" y1="96.75" x2="400.30" y2="96.75"/>
<line x1="395.70" y1="94.30" x2="400.30" y2="94.30"/>
<line x1="397.70" y1="78.16" x2="400.30" y2="78.16"/>
<line x1="397.70" y1="68.73" x2="400.30" y2="68.73"/>
<line x1="397.70" y1="62.03" x2="400.30" y2="62.03"/>
<line x1="397.70" y1="56.84" x2="400.30" y2="56.84"/>
<line x1="397.70" y1="52.59" x2="400.30" y2="52.59"/>
<line x1="397.70" y1="49.00" x2="400.30" y2="49.00"/>
<line x1="397.70" y1="45.89" x2="400.30" y2="45.89"/>
<line x1="397.70" y1="43.15" x2="400.30" y2="43.15"/>
<line x1="395.70" y1="40.70" x2="400.30" y2="40.70"/>
<line x1="397.70" y1="24.56" x2="400.30" y2="24.56"/>
<line x1="397.70" y1="15.13" x2="400.30" y2="15.13"/>
<line x1="397.70" y1="8.43" x2="400.30" y2="8.43"/>
<line x1="400.30" y1="255.10" x2="400.30" y2="259.30"/>
<line x1="428.16" y1="255.10" x2="428.16" y2="257.30"/>
<line x1="456.02" y1="255.10" x2="456.02" y2="259.30"/>
<line x1="483.88" y1="255.10" x2="483.88" y2="257.30"/>
<line x1="511.74" y1="255.10" x2="511.74" y2="259.30"/>
<line x1="539.60" y1="255.10" x2="539.60" y2="257.30"/>
<line x1="567.46" y1="255.10" x2="567.46" y2="259.30"/>
<line x1="595.32" y1="255.10" x2="595.32" y2="257.30"/>
<line x1="623.18" y1="255.10" x2="623.18" y2="259.30"/>
<line x1="651.04" y1="255.10" x2="651.04" y2="257.30"/>
<line x1="678.90" y1="255.10" x2="678.90" y2="259.30"/>
<line x1="706.76" y1="255.10" x2="706.76" y2="257.30"/>
</g>
<text x="391.90" y="258.90" text-anchor="end" font-size="10.5" fill="#111">10<tspan font-size="6.93" dy="-4.83">1</tspan></text>
<text x="391.90" y="205.30" text-anchor="end" font-size="10.5" fill="#111">10<tspan font-size="6.93" dy="-4.83">2</tspan></text>
<text x="391.90" y="151.70" text-anchor="end" font-size="10.5" fill="#111">10<tspan font-size="6.93" dy="-4.83">3</tspan></text>
<text x="391.90" y="98.10" text-anchor="end" font-size="10.5" fill="#111">10<tspan font-size="6.93" dy="-4.83">4</tspan></text>
<text x="391.90" y="44.50" text-anchor="end" font-size="10.5" fill="#111">10<tspan font-size="6.93" dy="-4.83">5</tspan></text>
<text x="400.30" y="271.70" text-anchor="middle" font-size="10.5" fill="#111">0</text>
<text x="456.02" y="271.70" text-anchor="middle" font-size="10.5" fill="#111">20</text>
<text x="511.74" y="271.70" text-anchor="middle" font-size="10.5" fill="#111">40</text>
<text x="567.46" y="271.70" text-anchor="middle" font-size="10.5" fill="#111">60</text>
<text x="623.18" y="271.70" text-anchor="middle" font-size="10.5" fill="#111">80</text>
<text x="678.90" y="271.70" text-anchor="middle" font-size="10.5" fill="#111">100</text>
<text x="553.80" y="291.60" font-size="12.9" fill="#111" text-anchor="middle">Frequency (Hz)</text>
<text transform="translate(371.10,131.05) rotate(-90)" font-size="12.7" fill="#111" text-anchor="middle">G', G''(Pa)</text>
<text x="405.10" y="12.10" font-size="15.5" font-weight="bold" fill="#000">B</text>
<clipPath id="cB"><rect x="400.30" y="-12.5" width="319.70" height="267.60"/></clipPath>
<g clip-path="url(#cB)">
<path d="M678.90 128.00L616.01 129.60L567.32 130.60L529.61 132.90L500.42 133.80L477.82 133.80L460.32 134.89L446.77 136.30L436.28 136.80L428.16 137.60L421.87 138.40L417.00 139.00L413.23 139.50L410.31 140.00L408.05 140.30L406.30 140.60L404.95 140.90L403.90 141.20L403.09 141.50L402.46 141.67L401.97 141.83L401.59 142.00L401.30 142.17L401.08 142.33L400.90 142.50L400.76 142.67L400.66 142.83L400.58 143.00" fill="none" stroke="#222" stroke-width="0.75"/>
<path d="M678.90 123.76V133.19M676.65 123.76H681.15M676.65 133.19H681.15M616.01 125.35V134.79M613.76 125.35H618.26M613.76 134.79H618.26M567.32 126.35V135.79M565.07 126.35H569.57M565.07 135.79H569.57M529.61 128.65V138.09M527.36 128.65H531.86M527.36 138.09H531.86M500.42 129.55V138.99M498.17 129.55H502.67M498.17 138.99H502.67M477.82 129.56V138.99M475.57 129.56H480.07M475.57 138.99H480.07M460.32 130.65V140.09M458.07 130.65H462.57M458.07 140.09H462.57M446.77 132.06V141.50M444.52 132.06H449.02M444.52 141.50H449.02M436.28 132.17V142.58M434.03 132.17H438.53M434.03 142.58H438.53M428.16 132.41V144.30M425.91 132.41H430.41M425.91 144.30H430.41M421.87 132.65V146.04M419.62 132.65H424.12M419.62 146.04H424.12M417.00 132.89V147.30M414.75 132.89H419.25M414.75 147.30H419.25M413.23 133.04V148.48M410.98 133.04H415.48M410.98 148.48H415.48M410.31 133.01V150.02M408.06 133.01H412.56M408.06 150.02H412.56M408.05 132.80V151.42M405.80 132.80H410.30M405.80 151.42H410.30M406.30 132.81V152.39M404.05 132.81H408.55M404.05 152.39H408.55M404.95 132.82V153.38M402.70 132.82H407.20M402.70 153.38H407.20" fill="none" stroke="#454545" stroke-width="0.95"/>
<rect x="676.40" y="125.50" width="5.00" height="5.00" fill="#000" stroke="#000" stroke-width="0.8"/>
<rect x="613.51" y="127.10" width="5.00" height="5.00" fill="#000" stroke="#000" stroke-width="0.8"/>
<rect x="564.82" y="128.10" width="5.00" height="5.00" fill="#000" stroke="#000" stroke-width="0.8"/>
<rect x="527.11" y="130.40" width="5.00" height="5.00" fill="#000" stroke="#000" stroke-width="0.8"/>
<rect x="497.92" y="131.30" width="5.00" height="5.00" fill="#000" stroke="#000" stroke-width="0.8"/>
<rect x="475.32" y="131.30" width="5.00" height="5.00" fill="#000" stroke="#000" stroke-width="0.8"/>
<rect x="457.82" y="132.39" width="5.00" height="5.00" fill="#000" stroke="#000" stroke-width="0.8"/>
<rect x="444.27" y="133.80" width="5.00" height="5.00" fill="#000" stroke="#000" stroke-width="0.8"/>
<rect x="433.78" y="134.30" width="5.00" height="5.00" fill="#000" stroke="#000" stroke-width="0.8"/>
<rect x="425.66" y="135.10" width="5.00" height="5.00" fill="#000" stroke="#000" stroke-width="0.8"/>
<rect x="419.37" y="135.90" width="5.00" height="5.00" fill="#000" stroke="#000" stroke-width="0.8"/>
<rect x="414.50" y="136.50" width="5.00" height="5.00" fill="#000" stroke="#000" stroke-width="0.8"/>
<rect x="410.73" y="137.00" width="5.00" height="5.00" fill="#000" stroke="#000" stroke-width="0.8"/>
<rect x="407.81" y="137.50" width="5.00" height="5.00" fill="#000" stroke="#000" stroke-width="0.8"/>
<rect x="405.55" y="137.80" width="5.00" height="5.00" fill="#000" stroke="#000" stroke-width="0.8"/>
<rect x="403.80" y="138.10" width="5.00" height="5.00" fill="#000" stroke="#000" stroke-width="0.8"/>
<rect x="402.45" y="138.40" width="5.00" height="5.00" fill="#000" stroke="#000" stroke-width="0.8"/>
<rect x="401.40" y="138.70" width="5.00" height="5.00" fill="#000" stroke="#000" stroke-width="0.8"/>
<rect x="400.59" y="139.00" width="5.00" height="5.00" fill="#000" stroke="#000" stroke-width="0.8"/>
<rect x="399.96" y="139.17" width="5.00" height="5.00" fill="#000" stroke="#000" stroke-width="0.8"/>
<rect x="399.47" y="139.33" width="5.00" height="5.00" fill="#000" stroke="#000" stroke-width="0.8"/>
<rect x="399.09" y="139.50" width="5.00" height="5.00" fill="#000" stroke="#000" stroke-width="0.8"/>
<rect x="398.80" y="139.67" width="5.00" height="5.00" fill="#000" stroke="#000" stroke-width="0.8"/>
<rect x="398.58" y="139.83" width="5.00" height="5.00" fill="#000" stroke="#000" stroke-width="0.8"/>
<rect x="398.40" y="140.00" width="5.00" height="5.00" fill="#000" stroke="#000" stroke-width="0.8"/>
<rect x="398.26" y="140.17" width="5.00" height="5.00" fill="#000" stroke="#000" stroke-width="0.8"/>
<rect x="398.16" y="140.33" width="5.00" height="5.00" fill="#000" stroke="#000" stroke-width="0.8"/>
<rect x="398.08" y="140.50" width="5.00" height="5.00" fill="#000" stroke="#000" stroke-width="0.8"/>
<path d="M403.90 132.83V154.39M401.65 132.83H406.15M401.65 154.39H406.15M403.09 132.85V155.42M400.84 132.85H405.34M400.84 155.42H405.34M402.46 132.93V155.82M400.21 132.93H404.71M400.21 155.82H404.71M401.97 133.01V156.22M399.72 133.01H404.22M399.72 156.22H404.22M401.59 133.08V156.63M399.34 133.08H403.84M399.34 156.63H403.84M401.30 133.16V157.04M399.05 133.16H403.55M399.05 157.04H403.55M401.08 133.24V157.46M398.83 133.24H403.33M398.83 157.46H403.33M400.90 133.32V157.87M398.65 133.32H403.15M398.65 157.87H403.15M400.76 133.40V158.29M398.51 133.40H403.01M398.51 158.29H403.01M400.66 133.48V158.71M398.41 133.48H402.91M398.41 158.71H402.91M400.58 133.56V159.14M398.33 133.56H402.83M398.33 159.14H402.83" fill="none" stroke="#454545" stroke-width="0.95"/>
<path d="M678.90 141.00L616.01 142.90L567.32 145.89L529.61 149.79L500.42 153.98L477.82 156.59L460.32 159.28L446.77 162.61L436.28 164.69L428.16 167.50L421.87 170.20L417.00 172.49L413.23 174.50L410.31 176.99L408.05 179.49L406.30 181.62L404.95 183.75L403.90 185.87L403.09 188.00L402.46 188.44L401.97 188.89L401.59 189.33L401.30 189.78L401.08 190.22L400.90 190.67L400.76 191.11L400.66 191.56L400.58 192.00" fill="none" stroke="#222" stroke-width="0.75"/>
<path d="M678.90 139.86V142.19M676.65 139.86H681.15M676.65 142.19H681.15M616.01 141.76V144.09M613.76 141.76H618.26M613.76 144.09H618.26M567.32 144.10V147.83M565.07 144.10H569.57M565.07 147.83H569.57M529.61 145.55V154.98M527.36 145.55H531.86M527.36 154.98H531.86M500.42 148.79V160.67M498.17 148.79H502.67M498.17 160.67H502.67M477.82 150.85V164.23M475.57 150.85H480.07M475.57 164.23H480.07M460.32 153.17V167.58M458.07 153.17H462.57M458.07 167.58H462.57M446.77 156.14V171.60M444.52 156.14H449.02M444.52 171.60H449.02M436.28 157.20V175.81M434.03 157.20H438.53M434.03 175.81H438.53M428.16 158.85V181.42M425.91 158.85H430.41M425.91 181.42H430.41M421.87 160.76V186.33M419.62 160.76H424.12M419.62 186.33H424.12M417.00 161.85V192.67M414.75 161.85H419.25M414.75 192.67H419.25M413.23 162.84V198.93M410.98 162.84H415.48M410.98 198.93H415.48M410.31 164.50V205.79M408.06 164.50H412.56M408.06 205.79H412.56M408.05 166.07V214.71M405.80 166.07H410.30M405.80 214.71H410.30M406.30 167.81V220.27M404.05 167.81H408.55M404.05 220.27H408.55M404.95 169.55V226.40M402.70 169.55H407.20M402.70 226.40H407.20" fill="none" stroke="#454545" stroke-width="0.95"/>
<rect x="676.40" y="138.50" width="5.00" height="5.00" fill="#fff" stroke="#000" stroke-width="0.8"/>
<rect x="613.51" y="140.40" width="5.00" height="5.00" fill="#fff" stroke="#000" stroke-width="0.8"/>
<rect x="564.82" y="143.39" width="5.00" height="5.00" fill="#fff" stroke="#000" stroke-width="0.8"/>
<rect x="527.11" y="147.29" width="5.00" height="5.00" fill="#fff" stroke="#000" stroke-width="0.8"/>
<rect x="497.92" y="151.48" width="5.00" height="5.00" fill="#fff" stroke="#000" stroke-width="0.8"/>
<rect x="475.32" y="154.09" width="5.00" height="5.00" fill="#fff" stroke="#000" stroke-width="0.8"/>
<rect x="457.82" y="156.78" width="5.00" height="5.00" fill="#fff" stroke="#000" stroke-width="0.8"/>
<rect x="444.27" y="160.11" width="5.00" height="5.00" fill="#fff" stroke="#000" stroke-width="0.8"/>
<rect x="433.78" y="162.19" width="5.00" height="5.00" fill="#fff" stroke="#000" stroke-width="0.8"/>
<rect x="425.66" y="165.00" width="5.00" height="5.00" fill="#fff" stroke="#000" stroke-width="0.8"/>
<rect x="419.37" y="167.70" width="5.00" height="5.00" fill="#fff" stroke="#000" stroke-width="0.8"/>
<rect x="414.50" y="169.99" width="5.00" height="5.00" fill="#fff" stroke="#000" stroke-width="0.8"/>
<rect x="410.73" y="172.00" width="5.00" height="5.00" fill="#fff" stroke="#000" stroke-width="0.8"/>
<rect x="407.81" y="174.49" width="5.00" height="5.00" fill="#fff" stroke="#000" stroke-width="0.8"/>
<rect x="405.55" y="176.99" width="5.00" height="5.00" fill="#fff" stroke="#000" stroke-width="0.8"/>
<rect x="403.80" y="179.12" width="5.00" height="5.00" fill="#fff" stroke="#000" stroke-width="0.8"/>
<rect x="402.45" y="181.25" width="5.00" height="5.00" fill="#fff" stroke="#000" stroke-width="0.8"/>
<rect x="401.40" y="183.37" width="5.00" height="5.00" fill="#fff" stroke="#000" stroke-width="0.8"/>
<rect x="400.59" y="185.50" width="5.00" height="5.00" fill="#fff" stroke="#000" stroke-width="0.8"/>
<rect x="399.96" y="185.94" width="5.00" height="5.00" fill="#fff" stroke="#000" stroke-width="0.8"/>
<rect x="399.47" y="186.39" width="5.00" height="5.00" fill="#fff" stroke="#000" stroke-width="0.8"/>
<rect x="399.09" y="186.83" width="5.00" height="5.00" fill="#fff" stroke="#000" stroke-width="0.8"/>
<rect x="398.80" y="187.28" width="5.00" height="5.00" fill="#fff" stroke="#000" stroke-width="0.8"/>
<rect x="398.58" y="187.72" width="5.00" height="5.00" fill="#fff" stroke="#000" stroke-width="0.8"/>
<rect x="398.40" y="188.17" width="5.00" height="5.00" fill="#fff" stroke="#000" stroke-width="0.8"/>
<rect x="398.26" y="188.61" width="5.00" height="5.00" fill="#fff" stroke="#000" stroke-width="0.8"/>
<rect x="398.16" y="189.06" width="5.00" height="5.00" fill="#fff" stroke="#000" stroke-width="0.8"/>
<rect x="398.08" y="189.50" width="5.00" height="5.00" fill="#fff" stroke="#000" stroke-width="0.8"/>
<path d="M403.90 171.30V233.36M401.65 171.30H406.15M401.65 233.36H406.15M403.09 173.06V241.60M400.84 173.06H405.34M400.84 241.60H405.34M402.46 173.37V244.79M400.21 173.37H404.71M400.21 244.79H404.71M401.97 173.68V248.34M399.72 173.68H404.22M399.72 248.34H404.22M401.59 173.99V252.37M399.34 173.99H403.84M399.34 252.37H403.84M401.30 174.30V257.06M399.05 174.30H403.55M399.05 257.06H403.55M401.08 174.61V260.10M398.83 174.61H403.33M398.83 260.10H403.33M400.90 174.92V260.10M398.65 174.92H403.15M398.65 260.10H403.15M400.76 175.24V260.10M398.51 175.24H403.01M398.51 260.10H403.01M400.66 175.55V260.10M398.41 175.55H402.91M398.41 260.10H402.91M400.58 175.86V260.10M398.33 175.86H402.83M398.33 260.10H402.83" fill="none" stroke="#454545" stroke-width="0.95"/>
<path d="M678.90 51.00L616.01 52.90L567.32 53.50L529.61 54.10L500.42 54.70L477.82 55.30L460.32 55.99L446.77 56.30L436.28 56.50L428.16 57.00L421.87 57.50L417.00 57.80L413.23 58.00L410.31 58.20L408.05 58.40L406.30 58.50L404.95 58.60L403.90 58.70L403.09 58.80L402.46 58.82L401.97 58.84L401.59 58.87L401.30 58.89L401.08 58.91L400.90 58.93L400.76 58.96L400.66 58.98L400.58 59.00" fill="none" stroke="#222" stroke-width="0.75"/>
<path d="M678.90 47.75V54.78M676.65 47.75H681.15M676.65 54.78H681.15M616.01 49.64V56.68M613.76 49.64H618.26M613.76 56.68H618.26M567.32 50.24V57.28M565.07 50.24H569.57M565.07 57.28H569.57M529.61 50.85V57.88M527.36 50.85H531.86M527.36 57.88H531.86M500.42 51.44V58.48M498.17 51.44H502.67M498.17 58.48H502.67M477.82 52.04V59.08M475.57 52.04H480.07M475.57 59.08H480.07M460.32 52.74V59.78M458.07 52.74H462.57M458.07 59.78H462.57M446.77 53.05V60.09M444.52 53.05H449.02M444.52 60.09H449.02M436.28 52.85V60.83M434.03 52.85H438.53M434.03 60.83H438.53M428.16 52.95V61.91M425.91 52.95H430.41M425.91 61.91H430.41M421.87 53.26V62.69M419.62 53.26H424.12M419.62 62.69H424.12M417.00 53.36V63.29M414.75 53.36H419.25M414.75 63.29H419.25M413.23 53.37V63.78M410.98 53.37H415.48M410.98 63.78H415.48M410.31 53.38V64.28M408.06 53.38H412.56M408.06 64.28H412.56M408.05 53.39V64.79M405.80 53.39H410.30M405.80 64.79H410.30M406.30 53.45V64.96M404.05 53.45H408.55M404.05 64.96H408.55M404.95 53.50V65.14M402.70 53.50H407.20M402.70 65.14H407.20" fill="none" stroke="#454545" stroke-width="0.95"/>
<path d="M678.90 47.85L682.05 53.36L675.75 53.36Z" fill="#000" stroke="#000" stroke-width="0.8" stroke-linejoin="miter"/>
<path d="M616.01 49.75L619.16 55.26L612.86 55.26Z" fill="#000" stroke="#000" stroke-width="0.8" stroke-linejoin="miter"/>
<path d="M567.32 50.35L570.47 55.86L564.17 55.86Z" fill="#000" stroke="#000" stroke-width="0.8" stroke-linejoin="miter"/>
<path d="M529.61 50.95L532.76 56.46L526.46 56.46Z" fill="#000" stroke="#000" stroke-width="0.8" stroke-linejoin="miter"/>
<path d="M500.42 51.55L503.57 57.06L497.27 57.06Z" fill="#000" stroke="#000" stroke-width="0.8" stroke-linejoin="miter"/>
<path d="M477.82 52.15L480.97 57.66L474.67 57.66Z" fill="#000" stroke="#000" stroke-width="0.8" stroke-linejoin="miter"/>
<path d="M460.32 52.84L463.47 58.36L457.17 58.36Z" fill="#000" stroke="#000" stroke-width="0.8" stroke-linejoin="miter"/>
<path d="M446.77 53.15L449.92 58.66L443.62 58.66Z" fill="#000" stroke="#000" stroke-width="0.8" stroke-linejoin="miter"/>
<path d="M436.28 53.35L439.43 58.86L433.13 58.86Z" fill="#000" stroke="#000" stroke-width="0.8" stroke-linejoin="miter"/>
<path d="M428.16 53.85L431.31 59.36L425.01 59.36Z" fill="#000" stroke="#000" stroke-width="0.8" stroke-linejoin="miter"/>
<path d="M421.87 54.35L425.02 59.86L418.72 59.86Z" fill="#000" stroke="#000" stroke-width="0.8" stroke-linejoin="miter"/>
<path d="M417.00 54.65L420.15 60.16L413.85 60.16Z" fill="#000" stroke="#000" stroke-width="0.8" stroke-linejoin="miter"/>
<path d="M413.23 54.85L416.38 60.36L410.08 60.36Z" fill="#000" stroke="#000" stroke-width="0.8" stroke-linejoin="miter"/>
<path d="M410.31 55.05L413.46 60.56L407.16 60.56Z" fill="#000" stroke="#000" stroke-width="0.8" stroke-linejoin="miter"/>
<path d="M408.05 55.25L411.20 60.76L404.90 60.76Z" fill="#000" stroke="#000" stroke-width="0.8" stroke-linejoin="miter"/>
<path d="M406.30 55.35L409.45 60.86L403.15 60.86Z" fill="#000" stroke="#000" stroke-width="0.8" stroke-linejoin="miter"/>
<path d="M404.95 55.45L408.10 60.96L401.80 60.96Z" fill="#000" stroke="#000" stroke-width="0.8" stroke-linejoin="miter"/>
<path d="M403.90 55.55L407.05 61.06L400.75 61.06Z" fill="#000" stroke="#000" stroke-width="0.8" stroke-linejoin="miter"/>
<path d="M403.09 55.65L406.24 61.16L399.94 61.16Z" fill="#000" stroke="#000" stroke-width="0.8" stroke-linejoin="miter"/>
<path d="M402.46 55.67L405.61 61.18L399.31 61.18Z" fill="#000" stroke="#000" stroke-width="0.8" stroke-linejoin="miter"/>
<path d="M401.97 55.69L405.12 61.21L398.82 61.21Z" fill="#000" stroke="#000" stroke-width="0.8" stroke-linejoin="miter"/>
<path d="M401.59 55.72L404.74 61.23L398.44 61.23Z" fill="#000" stroke="#000" stroke-width="0.8" stroke-linejoin="miter"/>
<path d="M401.30 55.74L404.45 61.25L398.15 61.25Z" fill="#000" stroke="#000" stroke-width="0.8" stroke-linejoin="miter"/>
<path d="M401.08 55.76L404.23 61.27L397.93 61.27Z" fill="#000" stroke="#000" stroke-width="0.8" stroke-linejoin="miter"/>
<path d="M400.90 55.78L404.05 61.30L397.75 61.30Z" fill="#000" stroke="#000" stroke-width="0.8" stroke-linejoin="miter"/>
<path d="M400.76 55.81L403.91 61.32L397.61 61.32Z" fill="#000" stroke="#000" stroke-width="0.8" stroke-linejoin="miter"/>
<path d="M400.66 55.83L403.81 61.34L397.51 61.34Z" fill="#000" stroke="#000" stroke-width="0.8" stroke-linejoin="miter"/>
<path d="M400.58 55.85L403.73 61.36L397.43 61.36Z" fill="#000" stroke="#000" stroke-width="0.8" stroke-linejoin="miter"/>
<path d="M403.90 53.55V65.32M401.65 53.55H406.15M401.65 65.32H406.15M403.09 53.61V65.50M400.84 53.61H405.34M400.84 65.50H405.34M402.46 53.63V65.52M400.21 53.63H404.71M400.21 65.52H404.71M401.97 53.65V65.54M399.72 53.65H404.22M399.72 65.54H404.22M401.59 53.67V65.56M399.34 53.67H403.84M399.34 65.56H403.84M401.30 53.69V65.59M399.05 53.69H403.55M399.05 65.59H403.55M401.08 53.72V65.61M398.83 53.72H403.33M398.83 65.61H403.33M400.90 53.74V65.63M398.65 53.74H403.15M398.65 65.63H403.15M400.76 53.76V65.65M398.51 53.76H403.01M398.51 65.65H403.01M400.66 53.78V65.67M398.41 53.78H402.91M398.41 65.67H402.91M400.58 53.81V65.70M398.33 53.81H402.83M398.33 65.70H402.83" fill="none" stroke="#454545" stroke-width="0.95"/>
<path d="M678.90 67.20L616.01 69.60L567.32 71.99L529.61 74.10L500.42 76.49L477.82 77.40L460.32 78.00L446.77 78.41L436.28 79.79L428.16 81.00L421.87 82.40L417.00 83.00L413.23 83.80L410.31 85.39L408.05 86.99L406.30 88.25L404.95 89.50L403.90 90.75L403.09 92.00L402.46 92.67L401.97 93.33L401.59 94.00L401.30 94.67L401.08 95.33L400.90 96.00L400.76 96.67L400.66 97.33L400.58 98.00" fill="none" stroke="#222" stroke-width="0.75"/>
<path d="M678.90 62.01V73.90M676.65 62.01H681.15M676.65 73.90H681.15M616.01 64.40V76.29M613.76 64.40H618.26M613.76 76.29H618.26M567.32 66.25V79.64M565.07 66.25H569.57M565.07 79.64H569.57M529.61 67.99V82.40M527.36 67.99H531.86M527.36 82.40H531.86M500.42 70.38V84.79M498.17 70.38H502.67M498.17 84.79H502.67M477.82 71.29V85.70M475.57 71.29H480.07M475.57 85.70H480.07M460.32 71.89V86.30M458.07 71.89H462.57M458.07 86.30H462.57M446.77 72.30V86.71M444.52 72.30H449.02M444.52 86.71H449.02M436.28 73.33V88.77M434.03 73.33H438.53M434.03 88.77H438.53M428.16 74.01V91.03M425.91 74.01H430.41M425.91 91.03H430.41M421.87 75.07V93.15M419.62 75.07H424.12M419.62 93.15H424.12M417.00 75.50V94.12M414.75 75.50H419.25M414.75 94.12H419.25M413.23 76.30V94.93M410.98 76.30H415.48M410.98 94.93H415.48M410.31 77.90V96.52M408.06 77.90H412.56M408.06 96.52H412.56M408.05 79.50V98.12M405.80 79.50H410.30M405.80 98.12H410.30M406.30 80.83V99.19M404.05 80.83H408.55M404.05 99.19H408.55M404.95 82.17V100.25M402.70 82.17H407.20M402.70 100.25H407.20" fill="none" stroke="#454545" stroke-width="0.95"/>
<path d="M678.90 64.05L682.05 69.56L675.75 69.56Z" fill="#fff" stroke="#000" stroke-width="0.8" stroke-linejoin="miter"/>
<path d="M616.01 66.45L619.16 71.96L612.86 71.96Z" fill="#fff" stroke="#000" stroke-width="0.8" stroke-linejoin="miter"/>
<path d="M567.32 68.84L570.47 74.35L564.17 74.35Z" fill="#fff" stroke="#000" stroke-width="0.8" stroke-linejoin="miter"/>
<path d="M529.61 70.95L532.76 76.46L526.46 76.46Z" fill="#fff" stroke="#000" stroke-width="0.8" stroke-linejoin="miter"/>
<path d="M500.42 73.34L503.57 78.85L497.27 78.85Z" fill="#fff" stroke="#000" stroke-width="0.8" stroke-linejoin="miter"/>
<path d="M477.82 74.25L480.97 79.76L474.67 79.76Z" fill="#fff" stroke="#000" stroke-width="0.8" stroke-linejoin="miter"/>
<path d="M460.32 74.85L463.47 80.36L457.17 80.36Z" fill="#fff" stroke="#000" stroke-width="0.8" stroke-linejoin="miter"/>
<path d="M446.77 75.26L449.92 80.77L443.62 80.77Z" fill="#fff" stroke="#000" stroke-width="0.8" stroke-linejoin="miter"/>
<path d="M436.28 76.64L439.43 82.16L433.13 82.16Z" fill="#fff" stroke="#000" stroke-width="0.8" stroke-linejoin="miter"/>
<path d="M428.16 77.85L431.31 83.36L425.01 83.36Z" fill="#fff" stroke="#000" stroke-width="0.8" stroke-linejoin="miter"/>
<path d="M421.87 79.25L425.02 84.76L418.72 84.76Z" fill="#fff" stroke="#000" stroke-width="0.8" stroke-linejoin="miter"/>
<path d="M417.00 79.85L420.15 85.36L413.85 85.36Z" fill="#fff" stroke="#000" stroke-width="0.8" stroke-linejoin="miter"/>
<path d="M413.23 80.65L416.38 86.16L410.08 86.16Z" fill="#fff" stroke="#000" stroke-width="0.8" stroke-linejoin="miter"/>
<path d="M410.31 82.24L413.46 87.76L407.16 87.76Z" fill="#fff" stroke="#000" stroke-width="0.8" stroke-linejoin="miter"/>
<path d="M408.05 83.84L411.20 89.36L404.90 89.36Z" fill="#fff" stroke="#000" stroke-width="0.8" stroke-linejoin="miter"/>
<path d="M406.30 85.10L409.45 90.61L403.15 90.61Z" fill="#fff" stroke="#000" stroke-width="0.8" stroke-linejoin="miter"/>
<path d="M404.95 86.35L408.10 91.86L401.80 91.86Z" fill="#fff" stroke="#000" stroke-width="0.8" stroke-linejoin="miter"/>
<path d="M403.90 87.60L407.05 93.11L400.75 93.11Z" fill="#fff" stroke="#000" stroke-width="0.8" stroke-linejoin="miter"/>
<path d="M403.09 88.85L406.24 94.36L399.94 94.36Z" fill="#fff" stroke="#000" stroke-width="0.8" stroke-linejoin="miter"/>
<path d="M402.46 89.52L405.61 95.03L399.31 95.03Z" fill="#fff" stroke="#000" stroke-width="0.8" stroke-linejoin="miter"/>
<path d="M401.97 90.18L405.12 95.70L398.82 95.70Z" fill="#fff" stroke="#000" stroke-width="0.8" stroke-linejoin="miter"/>
<path d="M401.59 90.85L404.74 96.36L398.44 96.36Z" fill="#fff" stroke="#000" stroke-width="0.8" stroke-linejoin="miter"/>
<path d="M401.30 91.52L404.45 97.03L398.15 97.03Z" fill="#fff" stroke="#000" stroke-width="0.8" stroke-linejoin="miter"/>
<path d="M401.08 92.18L404.23 97.70L397.93 97.70Z" fill="#fff" stroke="#000" stroke-width="0.8" stroke-linejoin="miter"/>
<path d="M400.90 92.85L404.05 98.36L397.75 98.36Z" fill="#fff" stroke="#000" stroke-width="0.8" stroke-linejoin="miter"/>
<path d="M400.76 93.52L403.91 99.03L397.61 99.03Z" fill="#fff" stroke="#000" stroke-width="0.8" stroke-linejoin="miter"/>
<path d="M400.66 94.18L403.81 99.70L397.51 99.70Z" fill="#fff" stroke="#000" stroke-width="0.8" stroke-linejoin="miter"/>
<path d="M400.58 94.85L403.73 100.36L397.43 100.36Z" fill="#fff" stroke="#000" stroke-width="0.8" stroke-linejoin="miter"/>
<path d="M403.90 83.51V101.32M401.65 83.51H406.15M401.65 101.32H406.15M403.09 84.84V102.39M400.84 84.84H405.34M400.84 102.39H405.34M402.46 85.57V102.93M400.21 85.57H404.71M400.21 102.93H404.71M401.97 86.29V103.48M399.72 86.29H404.22M399.72 103.48H404.22M401.59 87.01V104.03M399.34 87.01H403.84M399.34 104.03H403.84M401.30 87.74V104.58M399.05 87.74H403.55M399.05 104.58H403.55M401.08 88.46V105.12M398.83 88.46H403.33M398.83 105.12H403.33M400.90 89.19V105.67M398.65 89.19H403.15M398.65 105.67H403.15M400.76 89.91V106.22M398.51 89.91H403.01M398.51 106.22H403.01M400.66 90.64V106.77M398.41 90.64H402.91M398.41 106.77H402.91M400.58 91.36V107.32M398.33 91.36H402.83M398.33 107.32H402.83" fill="none" stroke="#454545" stroke-width="0.95"/>
<path d="M678.90 33.80L616.01 34.20L567.32 33.80L529.61 34.00L500.42 34.50L477.82 34.50L460.32 35.19L446.77 35.40L436.28 35.40L428.16 35.60L421.87 35.80L417.00 36.00L413.23 36.20L410.31 36.40L408.05 36.60L406.30 36.85L404.95 37.10L403.90 37.35L403.09 37.60L402.46 37.71L401.97 37.82L401.59 37.93L401.30 38.04L401.08 38.16L400.90 38.27L400.76 38.38L400.66 38.49L400.58 38.60" fill="none" stroke="#222" stroke-width="0.75"/>
<path d="M678.90 27.87V41.77M676.65 27.87H681.15M676.65 41.77H681.15M616.01 28.27V42.17M613.76 28.27H618.26M613.76 42.17H618.26M567.32 27.87V41.77M565.07 27.87H569.57M565.07 41.77H569.57M529.61 28.07V41.97M527.36 28.07H531.86M527.36 41.97H531.86M500.42 28.57V42.47M498.17 28.57H502.67M498.17 42.47H502.67M477.82 28.57V42.47M475.57 28.57H480.07M475.57 42.47H480.07M460.32 29.27V43.17M458.07 29.27H462.57M458.07 43.17H462.57M446.77 29.47V43.37M444.52 29.47H449.02M444.52 43.37H449.02M436.28 29.29V43.70M434.03 29.29H438.53M434.03 43.70H438.53M428.16 29.49V43.90M425.91 29.49H430.41M425.91 43.90H430.41M421.87 29.51V44.44M419.62 29.51H424.12M419.62 44.44H424.12M417.00 29.71V44.64M414.75 29.71H419.25M414.75 44.64H419.25M413.23 29.91V44.84M410.98 29.91H415.48M410.98 44.84H415.48M410.31 29.94V45.38M408.06 29.94H412.56M408.06 45.38H412.56M408.05 30.14V45.58M405.80 30.14H410.30M405.80 45.58H410.30M406.30 30.39V45.83M404.05 30.39H408.55M404.05 45.83H408.55M404.95 30.64V46.08M402.70 30.64H407.20M402.70 46.08H407.20" fill="none" stroke="#454545" stroke-width="0.95"/>
<path d="M678.90 30.40L682.30 33.80L678.90 37.20L675.50 33.80Z" fill="#000" stroke="#000" stroke-width="0.8"/>
<path d="M616.01 30.80L619.41 34.20L616.01 37.60L612.61 34.20Z" fill="#000" stroke="#000" stroke-width="0.8"/>
<path d="M567.32 30.40L570.72 33.80L567.32 37.20L563.92 33.80Z" fill="#000" stroke="#000" stroke-width="0.8"/>
<path d="M529.61 30.60L533.01 34.00L529.61 37.40L526.21 34.00Z" fill="#000" stroke="#000" stroke-width="0.8"/>
<path d="M500.42 31.10L503.82 34.50L500.42 37.90L497.02 34.50Z" fill="#000" stroke="#000" stroke-width="0.8"/>
<path d="M477.82 31.10L481.22 34.50L477.82 37.90L474.42 34.50Z" fill="#000" stroke="#000" stroke-width="0.8"/>
<path d="M460.32 31.79L463.72 35.19L460.32 38.59L456.92 35.19Z" fill="#000" stroke="#000" stroke-width="0.8"/>
<path d="M446.77 32.00L450.17 35.40L446.77 38.80L443.37 35.40Z" fill="#000" stroke="#000" stroke-width="0.8"/>
<path d="M436.28 32.00L439.68 35.40L436.28 38.80L432.88 35.40Z" fill="#000" stroke="#000" stroke-width="0.8"/>
<path d="M428.16 32.20L431.56 35.60L428.16 39.00L424.76 35.60Z" fill="#000" stroke="#000" stroke-width="0.8"/>
<path d="M421.87 32.40L425.27 35.80L421.87 39.20L418.47 35.80Z" fill="#000" stroke="#000" stroke-width="0.8"/>
<path d="M417.00 32.60L420.40 36.00L417.00 39.40L413.60 36.00Z" fill="#000" stroke="#000" stroke-width="0.8"/>
<path d="M413.23 32.80L416.63 36.20L413.23 39.60L409.83 36.20Z" fill="#000" stroke="#000" stroke-width="0.8"/>
<path d="M410.31 33.00L413.71 36.40L410.31 39.80L406.91 36.40Z" fill="#000" stroke="#000" stroke-width="0.8"/>
<path d="M408.05 33.20L411.45 36.60L408.05 40.00L404.65 36.60Z" fill="#000" stroke="#000" stroke-width="0.8"/>
<path d="M406.30 33.45L409.70 36.85L406.30 40.25L402.90 36.85Z" fill="#000" stroke="#000" stroke-width="0.8"/>
<path d="M404.95 33.70L408.35 37.10L404.95 40.50L401.55 37.10Z" fill="#000" stroke="#000" stroke-width="0.8"/>
<path d="M403.90 33.95L407.30 37.35L403.90 40.75L400.50 37.35Z" fill="#000" stroke="#000" stroke-width="0.8"/>
<path d="M403.09 34.20L406.49 37.60L403.09 41.00L399.69 37.60Z" fill="#000" stroke="#000" stroke-width="0.8"/>
<path d="M402.46 34.31L405.86 37.71L402.46 41.11L399.06 37.71Z" fill="#000" stroke="#000" stroke-width="0.8"/>
<path d="M401.97 34.42L405.37 37.82L401.97 41.22L398.57 37.82Z" fill="#000" stroke="#000" stroke-width="0.8"/>
<path d="M401.59 34.53L404.99 37.93L401.59 41.33L398.19 37.93Z" fill="#000" stroke="#000" stroke-width="0.8"/>
<path d="M401.30 34.64L404.70 38.04L401.30 41.44L397.90 38.04Z" fill="#000" stroke="#000" stroke-width="0.8"/>
<path d="M401.08 34.76L404.48 38.16L401.08 41.56L397.68 38.16Z" fill="#000" stroke="#000" stroke-width="0.8"/>
<path d="M400.90 34.87L404.30 38.27L400.90 41.67L397.50 38.27Z" fill="#000" stroke="#000" stroke-width="0.8"/>
<path d="M400.76 34.98L404.16 38.38L400.76 41.78L397.36 38.38Z" fill="#000" stroke="#000" stroke-width="0.8"/>
<path d="M400.66 35.09L404.06 38.49L400.66 41.89L397.26 38.49Z" fill="#000" stroke="#000" stroke-width="0.8"/>
<path d="M400.58 35.20L403.98 38.60L400.58 42.00L397.18 38.60Z" fill="#000" stroke="#000" stroke-width="0.8"/>
<path d="M403.90 30.89V46.33M401.65 30.89H406.15M401.65 46.33H406.15M403.09 31.14V46.58M400.84 31.14H405.34M400.84 46.58H405.34M402.46 31.25V46.69M400.21 31.25H404.71M400.21 46.69H404.71M401.97 31.36V46.80M399.72 31.36H404.22M399.72 46.80H404.22M401.59 31.47V46.91M399.34 31.47H403.84M399.34 46.91H403.84M401.30 31.58V47.02M399.05 31.58H403.55M399.05 47.02H403.55M401.08 31.69V47.13M398.83 31.69H403.33M398.83 47.13H403.33M400.90 31.80V47.24M398.65 31.80H403.15M398.65 47.24H403.15M400.76 31.92V47.36M398.51 31.92H403.01M398.51 47.36H403.01M400.66 32.03V47.47M398.41 32.03H402.91M398.41 47.47H402.91M400.58 32.14V47.58M398.33 32.14H402.83M398.33 47.58H402.83" fill="none" stroke="#454545" stroke-width="0.95"/>
<path d="M678.90 46.70L616.01 55.09L567.32 55.70L529.61 56.60L500.42 58.39L477.82 59.20L460.32 59.60L446.77 62.30L436.28 63.10L428.16 62.90L421.87 63.60L417.00 64.30L413.23 65.00L410.31 66.00L408.05 67.00L406.30 68.00L404.95 69.00L403.90 70.00L403.09 71.00L402.46 71.56L401.97 72.11L401.59 72.67L401.30 73.22L401.08 73.78L400.90 74.33L400.76 74.89L400.66 75.44L400.58 76.00" fill="none" stroke="#222" stroke-width="0.75"/>
<path d="M678.90 43.25V50.76M676.65 43.25H681.15M676.65 50.76H681.15M616.01 51.63V59.15M613.76 51.63H618.26M613.76 59.15H618.26M567.32 52.24V59.76M565.07 52.24H569.57M565.07 59.76H569.57M529.61 53.14V60.66M527.36 53.14H531.86M527.36 60.66H531.86M500.42 54.94V62.45M498.17 54.94H502.67M498.17 62.45H502.67M477.82 55.74V63.26M475.57 55.74H480.07M475.57 63.26H480.07M460.32 56.14V63.66M458.07 56.14H462.57M458.07 63.66H462.57M446.77 58.85V66.36M444.52 58.85H449.02M444.52 66.36H449.02M436.28 59.25V67.71M434.03 59.25H438.53M434.03 67.71H438.53M428.16 58.66V68.09M425.91 58.66H430.41M425.91 68.09H430.41M421.87 58.97V69.38M419.62 58.97H424.12M419.62 69.38H424.12M417.00 59.11V70.99M414.75 59.11H419.25M414.75 70.99H419.25M413.23 59.25V72.64M410.98 59.25H415.48M410.98 72.64H415.48M410.31 59.89V74.30M408.06 59.89H412.56M408.06 74.30H412.56M408.05 60.36V76.32M405.80 60.36H410.30M405.80 76.32H410.30M406.30 61.06V77.93M404.05 61.06H408.55M404.05 77.93H408.55M404.95 61.76V79.57M402.70 61.76H407.20M402.70 79.57H407.20" fill="none" stroke="#454545" stroke-width="0.95"/>
<path d="M678.90 43.30L682.30 46.70L678.90 50.10L675.50 46.70Z" fill="#fff" stroke="#000" stroke-width="0.8"/>
<path d="M616.01 51.69L619.41 55.09L616.01 58.49L612.61 55.09Z" fill="#fff" stroke="#000" stroke-width="0.8"/>
<path d="M567.32 52.30L570.72 55.70L567.32 59.10L563.92 55.70Z" fill="#fff" stroke="#000" stroke-width="0.8"/>
<path d="M529.61 53.20L533.01 56.60L529.61 60.00L526.21 56.60Z" fill="#fff" stroke="#000" stroke-width="0.8"/>
<path d="M500.42 54.99L503.82 58.39L500.42 61.79L497.02 58.39Z" fill="#fff" stroke="#000" stroke-width="0.8"/>
<path d="M477.82 55.80L481.22 59.20L477.82 62.60L474.42 59.20Z" fill="#fff" stroke="#000" stroke-width="0.8"/>
<path d="M460.32 56.20L463.72 59.60L460.32 63.00L456.92 59.60Z" fill="#fff" stroke="#000" stroke-width="0.8"/>
<path d="M446.77 58.90L450.17 62.30L446.77 65.70L443.37 62.30Z" fill="#fff" stroke="#000" stroke-width="0.8"/>
<path d="M436.28 59.70L439.68 63.10L436.28 66.50L432.88 63.10Z" fill="#fff" stroke="#000" stroke-width="0.8"/>
<path d="M428.16 59.50L431.56 62.90L428.16 66.30L424.76 62.90Z" fill="#fff" stroke="#000" stroke-width="0.8"/>
<path d="M421.87 60.20L425.27 63.60L421.87 67.00L418.47 63.60Z" fill="#fff" stroke="#000" stroke-width="0.8"/>
<path d="M417.00 60.90L420.40 64.30L417.00 67.70L413.60 64.30Z" fill="#fff" stroke="#000" stroke-width="0.8"/>
<path d="M413.23 61.60L416.63 65.00L413.23 68.40L409.83 65.00Z" fill="#fff" stroke="#000" stroke-width="0.8"/>
<path d="M410.31 62.60L413.71 66.00L410.31 69.40L406.91 66.00Z" fill="#fff" stroke="#000" stroke-width="0.8"/>
<path d="M408.05 63.60L411.45 67.00L408.05 70.40L404.65 67.00Z" fill="#fff" stroke="#000" stroke-width="0.8"/>
<path d="M406.30 64.60L409.70 68.00L406.30 71.40L402.90 68.00Z" fill="#fff" stroke="#000" stroke-width="0.8"/>
<path d="M404.95 65.60L408.35 69.00L404.95 72.40L401.55 69.00Z" fill="#fff" stroke="#000" stroke-width="0.8"/>
<path d="M403.90 66.60L407.30 70.00L403.90 73.40L400.50 70.00Z" fill="#fff" stroke="#000" stroke-width="0.8"/>
<path d="M403.09 67.60L406.49 71.00L403.09 74.40L399.69 71.00Z" fill="#fff" stroke="#000" stroke-width="0.8"/>
<path d="M402.46 68.16L405.86 71.56L402.46 74.96L399.06 71.56Z" fill="#fff" stroke="#000" stroke-width="0.8"/>
<path d="M401.97 68.71L405.37 72.11L401.97 75.51L398.57 72.11Z" fill="#fff" stroke="#000" stroke-width="0.8"/>
<path d="M401.59 69.27L404.99 72.67L401.59 76.07L398.19 72.67Z" fill="#fff" stroke="#000" stroke-width="0.8"/>
<path d="M401.30 69.82L404.70 73.22L401.30 76.62L397.90 73.22Z" fill="#fff" stroke="#000" stroke-width="0.8"/>
<path d="M401.08 70.38L404.48 73.78L401.08 77.18L397.68 73.78Z" fill="#fff" stroke="#000" stroke-width="0.8"/>
<path d="M400.90 70.93L404.30 74.33L400.90 77.73L397.50 74.33Z" fill="#fff" stroke="#000" stroke-width="0.8"/>
<path d="M400.76 71.49L404.16 74.89L400.76 78.29L397.36 74.89Z" fill="#fff" stroke="#000" stroke-width="0.8"/>
<path d="M400.66 72.04L404.06 75.44L400.66 78.84L397.26 75.44Z" fill="#fff" stroke="#000" stroke-width="0.8"/>
<path d="M400.58 72.60L403.98 76.00L400.58 79.40L397.18 76.00Z" fill="#fff" stroke="#000" stroke-width="0.8"/>
<path d="M403.90 62.46V81.22M401.65 62.46H406.15M401.65 81.22H406.15M403.09 63.17V82.89M400.84 63.17H405.34M400.84 82.89H405.34M402.46 63.63V83.66M400.21 63.63H404.71M400.21 83.66H404.71M401.97 64.09V84.44M399.72 64.09H404.22M399.72 84.44H404.22M401.59 64.56V85.21M399.34 64.56H403.84M399.34 85.21H403.84M401.30 65.02V85.99M399.05 65.02H403.55M399.05 85.99H403.55M401.08 65.49V86.77M398.83 65.49H403.33M398.83 86.77H403.33M400.90 65.95V87.55M398.65 65.95H403.15M398.65 87.55H403.15M400.76 66.42V88.34M398.51 66.42H403.01M398.51 88.34H403.01M400.66 66.88V89.13M398.41 66.88H402.91M398.41 89.13H402.91M400.58 67.35V89.92M398.33 67.35H402.83M398.33 89.92H402.83" fill="none" stroke="#454545" stroke-width="0.95"/>
<path d="M678.90 27.40L616.01 27.40L567.32 27.40L529.61 27.60L500.42 28.40L477.82 28.90L460.32 29.00L446.77 29.60L436.28 29.90L428.16 30.10L421.87 30.30L417.00 30.50L413.23 30.70L410.31 30.90L408.05 31.10L406.30 31.22L404.95 31.35L403.90 31.47L403.09 31.60L402.46 31.66L401.97 31.71L401.59 31.77L401.30 31.82L401.08 31.88L400.90 31.93L400.76 31.99L400.66 32.04L400.58 32.10" fill="none" stroke="#222" stroke-width="0.75"/>
<path d="M678.90 23.35V32.31M676.65 23.35H681.15M676.65 32.31H681.15M616.01 23.35V32.31M613.76 23.35H618.26M613.76 32.31H618.26M567.32 23.35V32.31M565.07 23.35H569.57M565.07 32.31H569.57M529.61 23.55V32.50M527.36 23.55H531.86M527.36 32.50H531.86M500.42 24.35V33.30M498.17 24.35H502.67M498.17 33.30H502.67M477.82 24.85V33.80M475.57 24.85H480.07M475.57 33.80H480.07M460.32 24.95V33.90M458.07 24.95H462.57M458.07 33.90H462.57M446.77 25.55V34.51M444.52 25.55H449.02M444.52 34.51H449.02M436.28 25.66V35.09M434.03 25.66H438.53M434.03 35.09H438.53M428.16 25.66V35.59M425.91 25.66H430.41M425.91 35.59H430.41M421.87 25.67V36.08M419.62 25.67H424.12M419.62 36.08H424.12M417.00 25.68V36.58M414.75 25.68H419.25M414.75 36.58H419.25M413.23 25.69V37.09M410.98 25.69H415.48M410.98 37.09H415.48M410.31 25.71V37.59M408.06 25.71H412.56M408.06 37.59H412.56M408.05 25.54V38.42M405.80 25.54H410.30M405.80 38.42H410.30M406.30 25.52V38.79M404.05 25.52H408.55M404.05 38.79H408.55M404.95 25.51V39.16M402.70 25.51H407.20M402.70 39.16H407.20" fill="none" stroke="#454545" stroke-width="0.95"/>
<circle cx="678.90" cy="27.40" r="2.70" fill="#000" stroke="#000" stroke-width="0.8"/>
<circle cx="616.01" cy="27.40" r="2.70" fill="#000" stroke="#000" stroke-width="0.8"/>
<circle cx="567.32" cy="27.40" r="2.70" fill="#000" stroke="#000" stroke-width="0.8"/>
<circle cx="529.61" cy="27.60" r="2.70" fill="#000" stroke="#000" stroke-width="0.8"/>
<circle cx="500.42" cy="28.40" r="2.70" fill="#000" stroke="#000" stroke-width="0.8"/>
<circle cx="477.82" cy="28.90" r="2.70" fill="#000" stroke="#000" stroke-width="0.8"/>
<circle cx="460.32" cy="29.00" r="2.70" fill="#000" stroke="#000" stroke-width="0.8"/>
<circle cx="446.77" cy="29.60" r="2.70" fill="#000" stroke="#000" stroke-width="0.8"/>
<circle cx="436.28" cy="29.90" r="2.70" fill="#000" stroke="#000" stroke-width="0.8"/>
<circle cx="428.16" cy="30.10" r="2.70" fill="#000" stroke="#000" stroke-width="0.8"/>
<circle cx="421.87" cy="30.30" r="2.70" fill="#000" stroke="#000" stroke-width="0.8"/>
<circle cx="417.00" cy="30.50" r="2.70" fill="#000" stroke="#000" stroke-width="0.8"/>
<circle cx="413.23" cy="30.70" r="2.70" fill="#000" stroke="#000" stroke-width="0.8"/>
<circle cx="410.31" cy="30.90" r="2.70" fill="#000" stroke="#000" stroke-width="0.8"/>
<circle cx="408.05" cy="31.10" r="2.70" fill="#000" stroke="#000" stroke-width="0.8"/>
<circle cx="406.30" cy="31.22" r="2.70" fill="#000" stroke="#000" stroke-width="0.8"/>
<circle cx="404.95" cy="31.35" r="2.70" fill="#000" stroke="#000" stroke-width="0.8"/>
<circle cx="403.90" cy="31.47" r="2.70" fill="#000" stroke="#000" stroke-width="0.8"/>
<circle cx="403.09" cy="31.60" r="2.70" fill="#000" stroke="#000" stroke-width="0.8"/>
<circle cx="402.46" cy="31.66" r="2.70" fill="#000" stroke="#000" stroke-width="0.8"/>
<circle cx="401.97" cy="31.71" r="2.70" fill="#000" stroke="#000" stroke-width="0.8"/>
<circle cx="401.59" cy="31.77" r="2.70" fill="#000" stroke="#000" stroke-width="0.8"/>
<circle cx="401.30" cy="31.82" r="2.70" fill="#000" stroke="#000" stroke-width="0.8"/>
<circle cx="401.08" cy="31.88" r="2.70" fill="#000" stroke="#000" stroke-width="0.8"/>
<circle cx="400.90" cy="31.93" r="2.70" fill="#000" stroke="#000" stroke-width="0.8"/>
<circle cx="400.76" cy="31.99" r="2.70" fill="#000" stroke="#000" stroke-width="0.8"/>
<circle cx="400.66" cy="32.04" r="2.70" fill="#000" stroke="#000" stroke-width="0.8"/>
<circle cx="400.58" cy="32.10" r="2.70" fill="#000" stroke="#000" stroke-width="0.8"/>
<path d="M403.90 25.50V39.53M401.65 25.50H406.15M401.65 39.53H406.15M403.09 25.49V39.90M400.84 25.49H405.34M400.84 39.90H405.34M402.46 25.49V40.07M400.21 25.49H404.71M400.21 40.07H404.71M401.97 25.48V40.24M399.72 25.48H404.22M399.72 40.24H404.22M401.59 25.48V40.40M399.34 25.48H403.84M399.34 40.40H403.84M401.30 25.48V40.57M399.05 25.48H403.55M399.05 40.57H403.55M401.08 25.47V40.74M398.83 25.47H403.33M398.83 40.74H403.33M400.90 25.47V40.91M398.65 25.47H403.15M398.65 40.91H403.15M400.76 25.47V41.08M398.51 25.47H403.01M398.51 41.08H403.01M400.66 25.46V41.25M398.41 25.46H402.91M398.41 41.25H402.91M400.58 25.46V41.42M398.33 25.46H402.83M398.33 41.42H402.83" fill="none" stroke="#454545" stroke-width="0.95"/>
<path d="M678.90 37.30L616.01 44.19L567.32 46.69L529.61 47.90L500.42 50.19L477.82 51.10L460.32 52.09L446.77 54.30L436.28 55.20L428.16 55.70L421.87 56.50L417.00 56.80L413.23 57.00L410.31 57.20L408.05 57.40L406.30 57.50L404.95 57.60L403.90 57.70L403.09 57.80L402.46 57.82L401.97 57.84L401.59 57.87L401.30 57.89L401.08 57.91L400.90 57.93L400.76 57.96L400.66 57.98L400.58 58.00" fill="none" stroke="#222" stroke-width="0.75"/>
<path d="M678.90 33.06V42.49M676.65 33.06H681.15M676.65 42.49H681.15M616.01 39.95V49.39M613.76 39.95H618.26M613.76 49.39H618.26M567.32 42.45V51.89M565.07 42.45H569.57M565.07 51.89H569.57M529.61 43.65V53.09M527.36 43.65H531.86M527.36 53.09H531.86M500.42 45.95V55.38M498.17 45.95H502.67M498.17 55.38H502.67M477.82 46.85V56.29M475.57 46.85H480.07M475.57 56.29H480.07M460.32 47.85V57.29M458.07 47.85H462.57M458.07 57.29H462.57M446.77 50.06V59.50M444.52 50.06H449.02M444.52 59.50H449.02M436.28 50.57V60.98M434.03 50.57H438.53M434.03 60.98H438.53M428.16 50.69V62.09M425.91 50.69H430.41M425.91 62.09H430.41M421.87 51.30V63.20M419.62 51.30H424.12M419.62 63.20H424.12M417.00 51.42V63.81M414.75 51.42H419.25M414.75 63.81H419.25M413.23 51.44V64.33M410.98 51.44H415.48M410.98 64.33H415.48M410.31 51.45V64.84M408.06 51.45H412.56M408.06 64.84H412.56M408.05 51.65V65.05M405.80 51.65H410.30M405.80 65.05H410.30M406.30 51.66V65.31M404.05 51.66H408.55M404.05 65.31H408.55M404.95 51.67V65.57M402.70 51.67H407.20M402.70 65.57H407.20" fill="none" stroke="#454545" stroke-width="0.95"/>
<circle cx="678.90" cy="37.30" r="2.70" fill="#fff" stroke="#000" stroke-width="0.8"/>
<circle cx="616.01" cy="44.19" r="2.70" fill="#fff" stroke="#000" stroke-width="0.8"/>
<circle cx="567.32" cy="46.69" r="2.70" fill="#fff" stroke="#000" stroke-width="0.8"/>
<circle cx="529.61" cy="47.90" r="2.70" fill="#fff" stroke="#000" stroke-width="0.8"/>
<circle cx="500.42" cy="50.19" r="2.70" fill="#fff" stroke="#000" stroke-width="0.8"/>
<circle cx="477.82" cy="51.10" r="2.70" fill="#fff" stroke="#000" stroke-width="0.8"/>
<circle cx="460.32" cy="52.09" r="2.70" fill="#fff" stroke="#000" stroke-width="0.8"/>
<circle cx="446.77" cy="54.30" r="2.70" fill="#fff" stroke="#000" stroke-width="0.8"/>
<circle cx="436.28" cy="55.20" r="2.70" fill="#fff" stroke="#000" stroke-width="0.8"/>
<circle cx="428.16" cy="55.70" r="2.70" fill="#fff" stroke="#000" stroke-width="0.8"/>
<circle cx="421.87" cy="56.50" r="2.70" fill="#fff" stroke="#000" stroke-width="0.8"/>
<circle cx="417.00" cy="56.80" r="2.70" fill="#fff" stroke="#000" stroke-width="0.8"/>
<circle cx="413.23" cy="57.00" r="2.70" fill="#fff" stroke="#000" stroke-width="0.8"/>
<circle cx="410.31" cy="57.20" r="2.70" fill="#fff" stroke="#000" stroke-width="0.8"/>
<circle cx="408.05" cy="57.40" r="2.70" fill="#fff" stroke="#000" stroke-width="0.8"/>
<circle cx="406.30" cy="57.50" r="2.70" fill="#fff" stroke="#000" stroke-width="0.8"/>
<circle cx="404.95" cy="57.60" r="2.70" fill="#fff" stroke="#000" stroke-width="0.8"/>
<circle cx="403.90" cy="57.70" r="2.70" fill="#fff" stroke="#000" stroke-width="0.8"/>
<circle cx="403.09" cy="57.80" r="2.70" fill="#fff" stroke="#000" stroke-width="0.8"/>
<circle cx="402.46" cy="57.82" r="2.70" fill="#fff" stroke="#000" stroke-width="0.8"/>
<circle cx="401.97" cy="57.84" r="2.70" fill="#fff" stroke="#000" stroke-width="0.8"/>
<circle cx="401.59" cy="57.87" r="2.70" fill="#fff" stroke="#000" stroke-width="0.8"/>
<circle cx="401.30" cy="57.89" r="2.70" fill="#fff" stroke="#000" stroke-width="0.8"/>
<circle cx="401.08" cy="57.91" r="2.70" fill="#fff" stroke="#000" stroke-width="0.8"/>
<circle cx="400.90" cy="57.93" r="2.70" fill="#fff" stroke="#000" stroke-width="0.8"/>
<circle cx="400.76" cy="57.96" r="2.70" fill="#fff" stroke="#000" stroke-width="0.8"/>
<circle cx="400.66" cy="57.98" r="2.70" fill="#fff" stroke="#000" stroke-width="0.8"/>
<circle cx="400.58" cy="58.00" r="2.70" fill="#fff" stroke="#000" stroke-width="0.8"/>
<path d="M403.90 51.68V65.84M401.65 51.68H406.15M401.65 65.84H406.15M403.09 51.69V66.10M400.84 51.69H405.34M400.84 66.10H405.34M402.46 51.71V66.12M400.21 51.71H404.71M400.21 66.12H404.71M401.97 51.74V66.15M399.72 51.74H404.22M399.72 66.15H404.22M401.59 51.76V66.17M399.34 51.76H403.84M399.34 66.17H403.84M401.30 51.78V66.19M399.05 51.78H403.55M399.05 66.19H403.55M401.08 51.80V66.21M398.83 51.80H403.33M398.83 66.21H403.33M400.90 51.83V66.24M398.65 51.83H403.15M398.65 66.24H403.15M400.76 51.85V66.26M398.51 51.85H403.01M398.51 66.26H403.01M400.66 51.87V66.28M398.41 51.87H402.91M398.41 66.28H402.91M400.58 51.89V66.30M398.33 51.89H402.83M398.33 66.30H402.83" fill="none" stroke="#454545" stroke-width="0.95"/>
</g>
<line x1="622.60" y1="163.20" x2="641.20" y2="163.20" stroke="#222" stroke-width="0.8"/>
<rect x="629.75" y="160.95" width="4.50" height="4.50" fill="#000" stroke="#000" stroke-width="0.8"/>
<text x="643.70" y="165.80" font-size="8.0" fill="#111">CRB-3p (G')</text>
<line x1="622.60" y1="173.18" x2="641.20" y2="173.18" stroke="#222" stroke-width="0.8"/>
<rect x="629.75" y="170.93" width="4.50" height="4.50" fill="#fff" stroke="#000" stroke-width="0.8"/>
<text x="643.70" y="175.78" font-size="8.0" fill="#111">CRB-3p (G")</text>
<line x1="622.60" y1="183.16" x2="641.20" y2="183.16" stroke="#222" stroke-width="0.8"/>
<path d="M632.00 180.32L634.84 185.29L629.16 185.29Z" fill="#000" stroke="#000" stroke-width="0.8" stroke-linejoin="miter"/>
<text x="643.70" y="185.76" font-size="8.0" fill="#111">CRB-5p (G')</text>
<line x1="622.60" y1="193.14" x2="641.20" y2="193.14" stroke="#222" stroke-width="0.8"/>
<path d="M632.00 190.30L634.84 195.27L629.16 195.27Z" fill="#fff" stroke="#000" stroke-width="0.8" stroke-linejoin="miter"/>
<text x="643.70" y="195.74" font-size="8.0" fill="#111">CRB-5p (G")</text>
<line x1="622.60" y1="203.12" x2="641.20" y2="203.12" stroke="#222" stroke-width="0.8"/>
<path d="M632.00 200.06L635.06 203.12L632.00 206.18L628.94 203.12Z" fill="#000" stroke="#000" stroke-width="0.8"/>
<text x="643.70" y="205.72" font-size="8.0" fill="#111">CRB-7p (G')</text>
<line x1="622.60" y1="213.10" x2="641.20" y2="213.10" stroke="#222" stroke-width="0.8"/>
<path d="M632.00 210.04L635.06 213.10L632.00 216.16L628.94 213.10Z" fill="#fff" stroke="#000" stroke-width="0.8"/>
<text x="643.70" y="215.70" font-size="8.0" fill="#111">CRB-7p (G")</text>
<line x1="622.60" y1="223.08" x2="641.20" y2="223.08" stroke="#222" stroke-width="0.8"/>
<circle cx="632.00" cy="223.08" r="2.43" fill="#000" stroke="#000" stroke-width="0.8"/>
<text x="643.70" y="225.68" font-size="8.0" fill="#111">CRB-9p (G')</text>
<line x1="622.60" y1="233.06" x2="641.20" y2="233.06" stroke="#222" stroke-width="0.8"/>
<circle cx="632.00" cy="233.06" r="2.43" fill="#fff" stroke="#000" stroke-width="0.8"/>
<text x="643.70" y="235.66" font-size="8.0" fill="#111">CRB-9p (G")</text>
</svg>
</body></html>
